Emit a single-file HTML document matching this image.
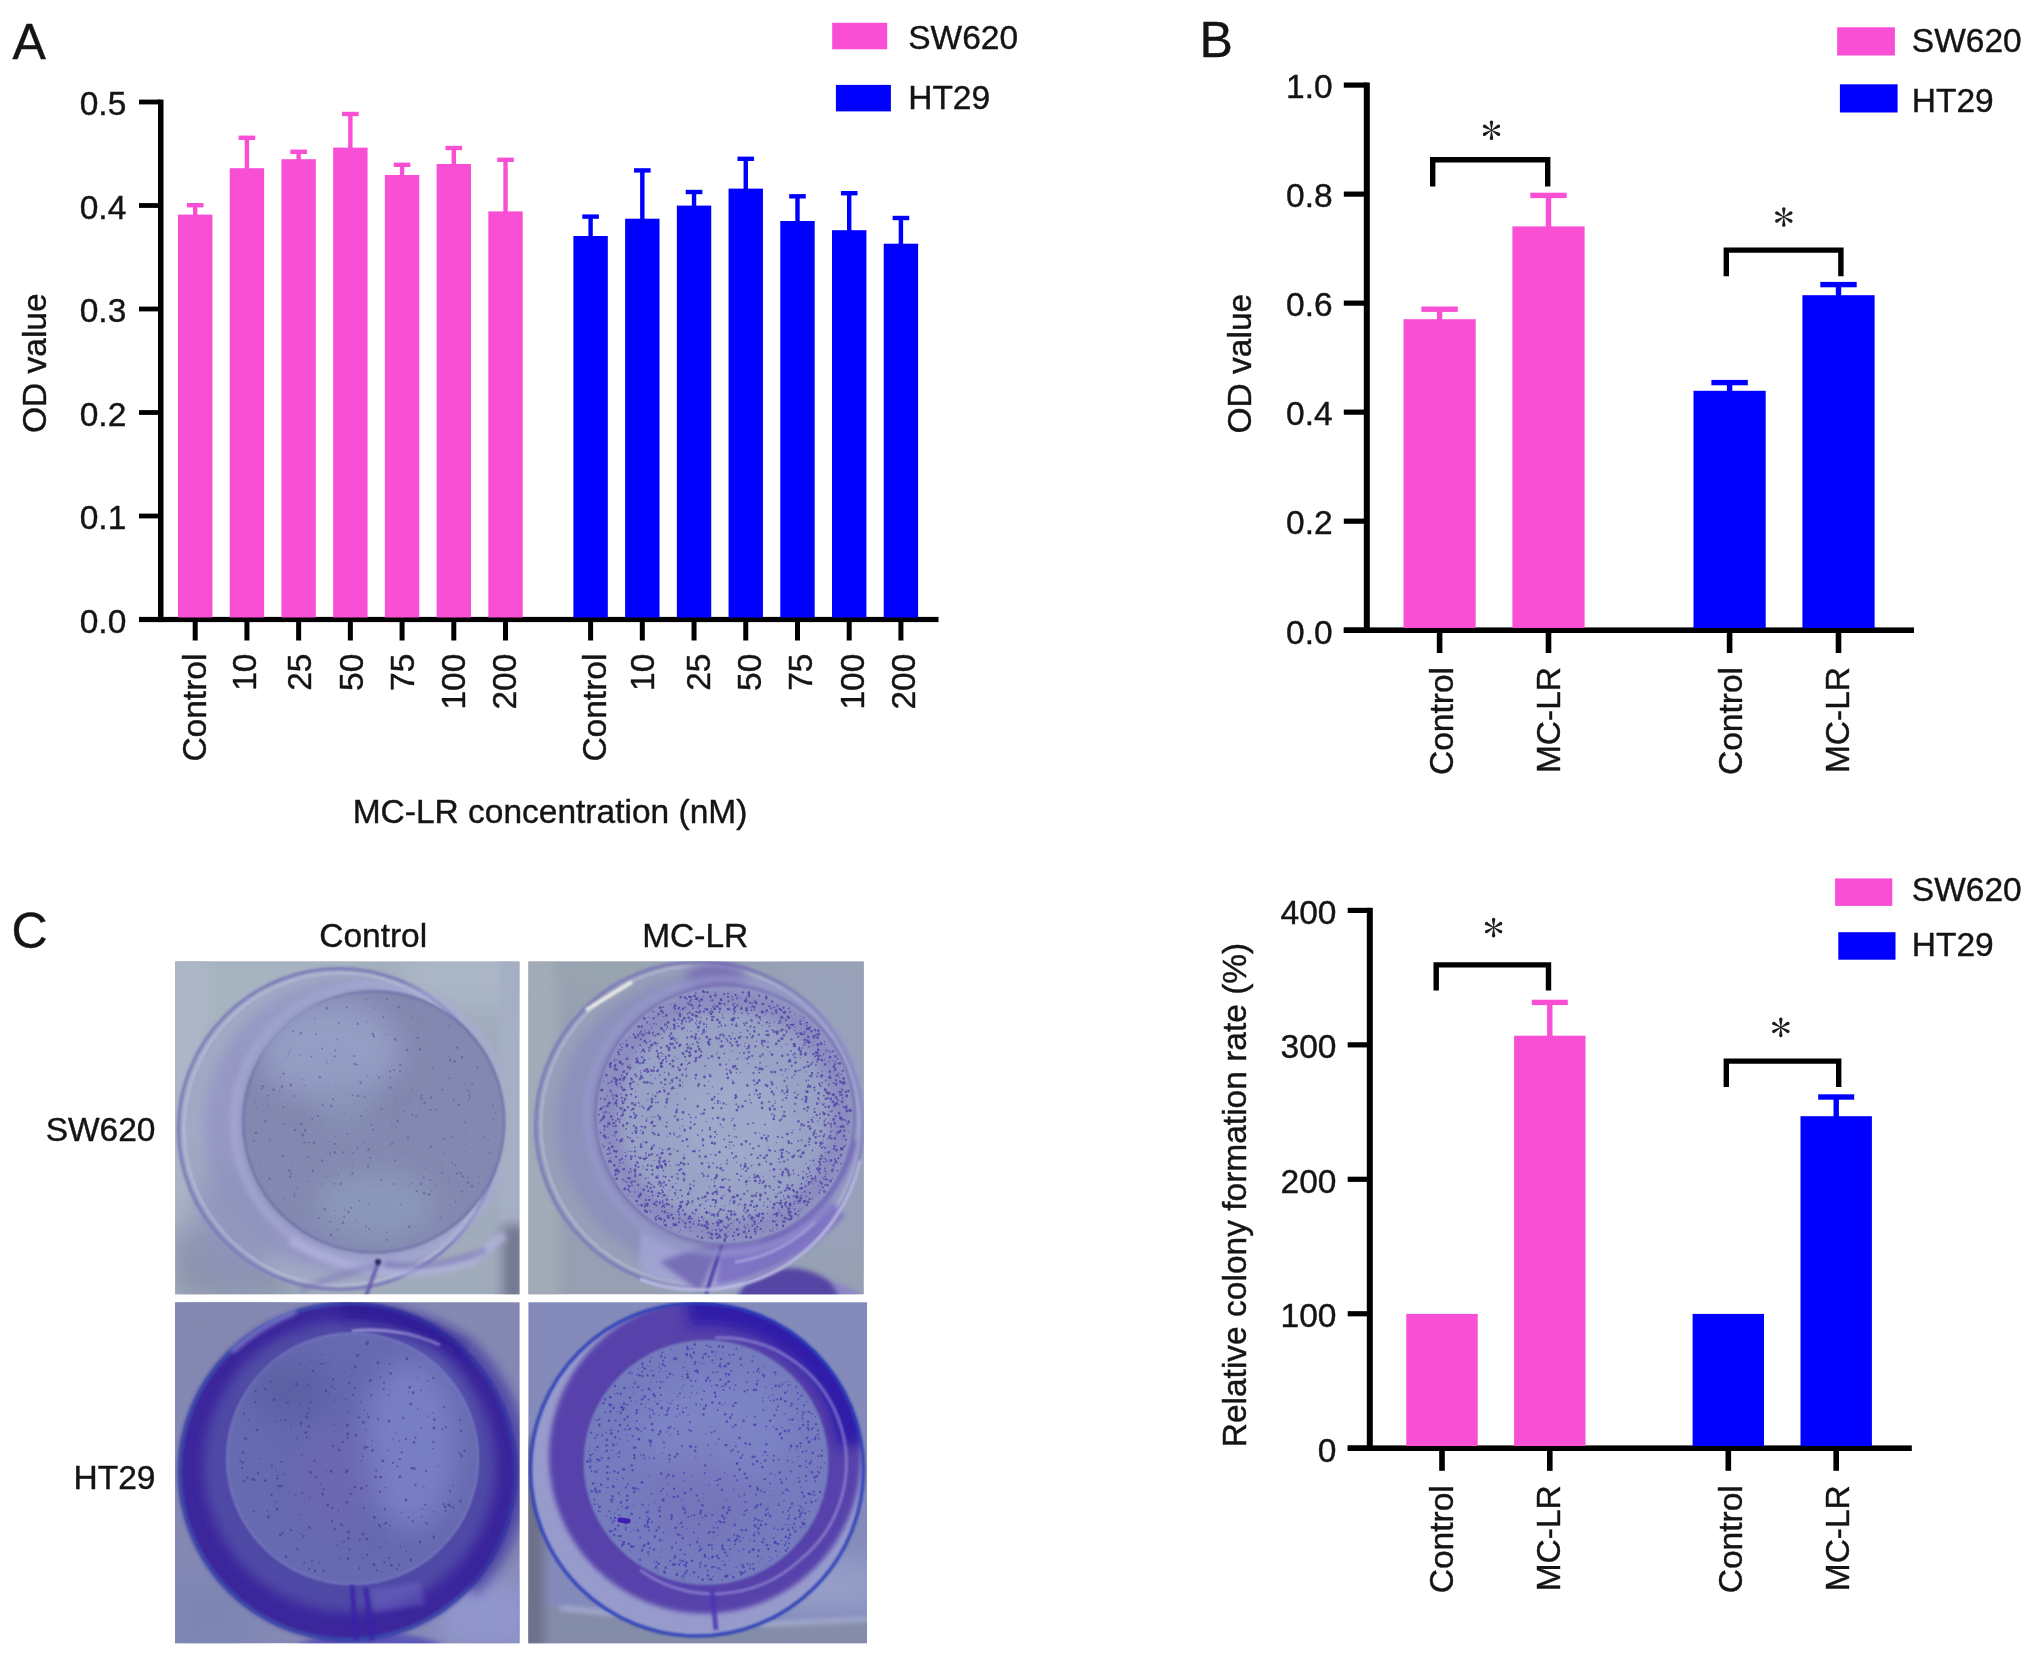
<!DOCTYPE html>
<html><head><meta charset="utf-8"><title>Figure</title>
<style>html,body{margin:0;padding:0;background:#fff}svg{display:block}</style></head>
<body>
<svg xmlns="http://www.w3.org/2000/svg" width="2032" height="1660" viewBox="0 0 2032 1660">
<rect width="2032" height="1660" fill="#fff"/>
<g id="fig" style="will-change:opacity">
<text x="12.50" y="59.00" font-size="50" text-anchor="start" fill="#141414" stroke="#141414" stroke-width="0.4" font-family="Liberation Sans">A</text>
<rect x="158.00" y="99.60" width="5.50" height="522.50" fill="#000"/>
<rect x="139.00" y="616.90" width="799.50" height="5.20" fill="#000"/>
<rect x="139.00" y="99.60" width="21.75" height="4.80" fill="#000"/>
<text x="126.30" y="115.10" font-size="33.5" text-anchor="end" fill="#141414" stroke="#141414" stroke-width="0.4" font-family="Liberation Sans">0.5</text>
<rect x="139.00" y="203.10" width="21.75" height="4.80" fill="#000"/>
<text x="126.30" y="218.60" font-size="33.5" text-anchor="end" fill="#141414" stroke="#141414" stroke-width="0.4" font-family="Liberation Sans">0.4</text>
<rect x="139.00" y="306.60" width="21.75" height="4.80" fill="#000"/>
<text x="126.30" y="322.10" font-size="33.5" text-anchor="end" fill="#141414" stroke="#141414" stroke-width="0.4" font-family="Liberation Sans">0.3</text>
<rect x="139.00" y="410.10" width="21.75" height="4.80" fill="#000"/>
<text x="126.30" y="425.60" font-size="33.5" text-anchor="end" fill="#141414" stroke="#141414" stroke-width="0.4" font-family="Liberation Sans">0.2</text>
<rect x="139.00" y="513.60" width="21.75" height="4.80" fill="#000"/>
<text x="126.30" y="529.10" font-size="33.5" text-anchor="end" fill="#141414" stroke="#141414" stroke-width="0.4" font-family="Liberation Sans">0.1</text>
<rect x="139.00" y="617.10" width="21.75" height="4.80" fill="#000"/>
<text x="126.30" y="632.60" font-size="33.5" text-anchor="end" fill="#141414" stroke="#141414" stroke-width="0.4" font-family="Liberation Sans">0.0</text>
<text x="45.60" y="363.20" font-size="33.5" text-anchor="middle" fill="#141414" stroke="#141414" stroke-width="0.4" font-family="Liberation Sans" transform="rotate(-90 45.60 363.20)">OD value</text>
<rect x="193.00" y="205.20" width="4.40" height="10.40" fill="#f84fd4"/>
<rect x="186.90" y="203.00" width="16.60" height="4.40" fill="#f84fd4"/>
<rect x="178.00" y="214.60" width="34.40" height="402.90" fill="#f84fd4"/>
<rect x="192.70" y="621.00" width="5.00" height="19.50" fill="#000"/>
<text x="206.40" y="653.60" font-size="33.5" text-anchor="end" fill="#141414" stroke="#141414" stroke-width="0.4" font-family="Liberation Sans" transform="rotate(-90 206.40 653.60)">Control</text>
<rect x="244.72" y="137.80" width="4.40" height="31.40" fill="#f84fd4"/>
<rect x="238.62" y="135.60" width="16.60" height="4.40" fill="#f84fd4"/>
<rect x="229.72" y="168.20" width="34.40" height="449.30" fill="#f84fd4"/>
<rect x="244.42" y="621.00" width="5.00" height="19.50" fill="#000"/>
<text x="255.60" y="653.60" font-size="33.5" text-anchor="end" fill="#141414" stroke="#141414" stroke-width="0.4" font-family="Liberation Sans" transform="rotate(-90 255.60 653.60)">10</text>
<rect x="296.44" y="151.80" width="4.40" height="8.40" fill="#f84fd4"/>
<rect x="290.34" y="149.60" width="16.60" height="4.40" fill="#f84fd4"/>
<rect x="281.44" y="159.20" width="34.40" height="458.30" fill="#f84fd4"/>
<rect x="296.14" y="621.00" width="5.00" height="19.50" fill="#000"/>
<text x="311.00" y="653.60" font-size="33.5" text-anchor="end" fill="#141414" stroke="#141414" stroke-width="0.4" font-family="Liberation Sans" transform="rotate(-90 311.00 653.60)">25</text>
<rect x="348.16" y="114.00" width="4.40" height="34.60" fill="#f84fd4"/>
<rect x="342.06" y="111.80" width="16.60" height="4.40" fill="#f84fd4"/>
<rect x="333.16" y="147.60" width="34.40" height="469.90" fill="#f84fd4"/>
<rect x="347.86" y="621.00" width="5.00" height="19.50" fill="#000"/>
<text x="362.70" y="653.60" font-size="33.5" text-anchor="end" fill="#141414" stroke="#141414" stroke-width="0.4" font-family="Liberation Sans" transform="rotate(-90 362.70 653.60)">50</text>
<rect x="399.88" y="164.80" width="4.40" height="11.20" fill="#f84fd4"/>
<rect x="393.78" y="162.60" width="16.60" height="4.40" fill="#f84fd4"/>
<rect x="384.88" y="175.00" width="34.40" height="442.50" fill="#f84fd4"/>
<rect x="399.58" y="621.00" width="5.00" height="19.50" fill="#000"/>
<text x="413.70" y="653.60" font-size="33.5" text-anchor="end" fill="#141414" stroke="#141414" stroke-width="0.4" font-family="Liberation Sans" transform="rotate(-90 413.70 653.60)">75</text>
<rect x="451.60" y="148.00" width="4.40" height="17.00" fill="#f84fd4"/>
<rect x="445.50" y="145.80" width="16.60" height="4.40" fill="#f84fd4"/>
<rect x="436.60" y="164.00" width="34.40" height="453.50" fill="#f84fd4"/>
<rect x="451.30" y="621.00" width="5.00" height="19.50" fill="#000"/>
<text x="464.70" y="653.60" font-size="33.5" text-anchor="end" fill="#141414" stroke="#141414" stroke-width="0.4" font-family="Liberation Sans" transform="rotate(-90 464.70 653.60)">100</text>
<rect x="503.32" y="159.80" width="4.40" height="52.60" fill="#f84fd4"/>
<rect x="497.22" y="157.60" width="16.60" height="4.40" fill="#f84fd4"/>
<rect x="488.32" y="211.40" width="34.40" height="406.10" fill="#f84fd4"/>
<rect x="503.02" y="621.00" width="5.00" height="19.50" fill="#000"/>
<text x="516.50" y="653.60" font-size="33.5" text-anchor="end" fill="#141414" stroke="#141414" stroke-width="0.4" font-family="Liberation Sans" transform="rotate(-90 516.50 653.60)">200</text>
<rect x="588.40" y="216.60" width="4.40" height="20.40" fill="#0000ff"/>
<rect x="582.30" y="214.40" width="16.60" height="4.40" fill="#0000ff"/>
<rect x="573.40" y="236.00" width="34.40" height="381.50" fill="#0000ff"/>
<rect x="588.10" y="621.00" width="5.00" height="19.50" fill="#000"/>
<text x="605.80" y="653.60" font-size="33.5" text-anchor="end" fill="#141414" stroke="#141414" stroke-width="0.4" font-family="Liberation Sans" transform="rotate(-90 605.80 653.60)">Control</text>
<rect x="640.12" y="170.40" width="4.40" height="49.30" fill="#0000ff"/>
<rect x="634.02" y="168.20" width="16.60" height="4.40" fill="#0000ff"/>
<rect x="625.12" y="218.70" width="34.40" height="398.80" fill="#0000ff"/>
<rect x="639.82" y="621.00" width="5.00" height="19.50" fill="#000"/>
<text x="654.40" y="653.60" font-size="33.5" text-anchor="end" fill="#141414" stroke="#141414" stroke-width="0.4" font-family="Liberation Sans" transform="rotate(-90 654.40 653.60)">10</text>
<rect x="691.84" y="192.00" width="4.40" height="14.60" fill="#0000ff"/>
<rect x="685.74" y="189.80" width="16.60" height="4.40" fill="#0000ff"/>
<rect x="676.84" y="205.60" width="34.40" height="411.90" fill="#0000ff"/>
<rect x="691.54" y="621.00" width="5.00" height="19.50" fill="#000"/>
<text x="709.80" y="653.60" font-size="33.5" text-anchor="end" fill="#141414" stroke="#141414" stroke-width="0.4" font-family="Liberation Sans" transform="rotate(-90 709.80 653.60)">25</text>
<rect x="743.56" y="158.80" width="4.40" height="30.80" fill="#0000ff"/>
<rect x="737.46" y="156.60" width="16.60" height="4.40" fill="#0000ff"/>
<rect x="728.56" y="188.60" width="34.40" height="428.90" fill="#0000ff"/>
<rect x="743.26" y="621.00" width="5.00" height="19.50" fill="#000"/>
<text x="761.40" y="653.60" font-size="33.5" text-anchor="end" fill="#141414" stroke="#141414" stroke-width="0.4" font-family="Liberation Sans" transform="rotate(-90 761.40 653.60)">50</text>
<rect x="795.28" y="196.30" width="4.40" height="25.70" fill="#0000ff"/>
<rect x="789.18" y="194.10" width="16.60" height="4.40" fill="#0000ff"/>
<rect x="780.28" y="221.00" width="34.40" height="396.50" fill="#0000ff"/>
<rect x="794.98" y="621.00" width="5.00" height="19.50" fill="#000"/>
<text x="812.50" y="653.60" font-size="33.5" text-anchor="end" fill="#141414" stroke="#141414" stroke-width="0.4" font-family="Liberation Sans" transform="rotate(-90 812.50 653.60)">75</text>
<rect x="847.00" y="193.20" width="4.40" height="38.00" fill="#0000ff"/>
<rect x="840.90" y="191.00" width="16.60" height="4.40" fill="#0000ff"/>
<rect x="832.00" y="230.20" width="34.40" height="387.30" fill="#0000ff"/>
<rect x="846.70" y="621.00" width="5.00" height="19.50" fill="#000"/>
<text x="864.00" y="653.60" font-size="33.5" text-anchor="end" fill="#141414" stroke="#141414" stroke-width="0.4" font-family="Liberation Sans" transform="rotate(-90 864.00 653.60)">100</text>
<rect x="898.72" y="218.00" width="4.40" height="26.70" fill="#0000ff"/>
<rect x="892.62" y="215.80" width="16.60" height="4.40" fill="#0000ff"/>
<rect x="883.72" y="243.70" width="34.40" height="373.80" fill="#0000ff"/>
<rect x="898.42" y="621.00" width="5.00" height="19.50" fill="#000"/>
<text x="914.80" y="653.60" font-size="33.5" text-anchor="end" fill="#141414" stroke="#141414" stroke-width="0.4" font-family="Liberation Sans" transform="rotate(-90 914.80 653.60)">200</text>
<text x="550.00" y="823.00" font-size="33.5" text-anchor="middle" fill="#141414" stroke="#141414" stroke-width="0.4" font-family="Liberation Sans">MC-LR concentration (nM)</text>
<rect x="832.20" y="22.80" width="55.00" height="26.50" fill="#f84fd4"/>
<rect x="835.90" y="84.90" width="55.00" height="26.50" fill="#0000ff"/>
<text x="908.20" y="49.40" font-size="33.5" text-anchor="start" fill="#141414" stroke="#141414" stroke-width="0.4" font-family="Liberation Sans">SW620</text>
<text x="908.20" y="108.90" font-size="33.5" text-anchor="start" fill="#141414" stroke="#141414" stroke-width="0.4" font-family="Liberation Sans">HT29</text>
<text x="1199.50" y="56.60" font-size="50" text-anchor="start" fill="#141414" stroke="#141414" stroke-width="0.4" font-family="Liberation Sans">B</text>
<rect x="1363.80" y="82.50" width="6.00" height="550.50" fill="#000"/>
<rect x="1343.80" y="627.40" width="570.20" height="5.60" fill="#000"/>
<rect x="1343.80" y="82.50" width="23.00" height="5.20" fill="#000"/>
<text x="1332.60" y="98.40" font-size="33.5" text-anchor="end" fill="#141414" stroke="#141414" stroke-width="0.4" font-family="Liberation Sans">1.0</text>
<rect x="1343.80" y="191.52" width="23.00" height="5.20" fill="#000"/>
<text x="1332.60" y="207.42" font-size="33.5" text-anchor="end" fill="#141414" stroke="#141414" stroke-width="0.4" font-family="Liberation Sans">0.8</text>
<rect x="1343.80" y="300.54" width="23.00" height="5.20" fill="#000"/>
<text x="1332.60" y="316.44" font-size="33.5" text-anchor="end" fill="#141414" stroke="#141414" stroke-width="0.4" font-family="Liberation Sans">0.6</text>
<rect x="1343.80" y="409.56" width="23.00" height="5.20" fill="#000"/>
<text x="1332.60" y="425.46" font-size="33.5" text-anchor="end" fill="#141414" stroke="#141414" stroke-width="0.4" font-family="Liberation Sans">0.4</text>
<rect x="1343.80" y="518.58" width="23.00" height="5.20" fill="#000"/>
<text x="1332.60" y="534.48" font-size="33.5" text-anchor="end" fill="#141414" stroke="#141414" stroke-width="0.4" font-family="Liberation Sans">0.2</text>
<rect x="1343.80" y="627.60" width="23.00" height="5.20" fill="#000"/>
<text x="1332.60" y="643.50" font-size="33.5" text-anchor="end" fill="#141414" stroke="#141414" stroke-width="0.4" font-family="Liberation Sans">0.0</text>
<text x="1250.60" y="363.60" font-size="33.5" text-anchor="middle" fill="#141414" stroke="#141414" stroke-width="0.4" font-family="Liberation Sans" transform="rotate(-90 1250.60 363.60)">OD value</text>
<rect x="1436.90" y="309.20" width="5.40" height="11.00" fill="#f84fd4"/>
<rect x="1421.40" y="306.50" width="36.40" height="5.40" fill="#f84fd4"/>
<rect x="1403.50" y="319.20" width="72.20" height="308.80" fill="#f84fd4"/>
<rect x="1436.80" y="632.00" width="5.60" height="21.00" fill="#000"/>
<text x="1452.60" y="667.00" font-size="33.5" text-anchor="end" fill="#141414" stroke="#141414" stroke-width="0.4" font-family="Liberation Sans" transform="rotate(-90 1452.60 667.00)">Control</text>
<rect x="1545.80" y="195.40" width="5.40" height="32.00" fill="#f84fd4"/>
<rect x="1530.30" y="192.70" width="36.40" height="5.40" fill="#f84fd4"/>
<rect x="1512.40" y="226.40" width="72.20" height="401.60" fill="#f84fd4"/>
<rect x="1545.70" y="632.00" width="5.60" height="21.00" fill="#000"/>
<text x="1560.00" y="667.00" font-size="33.5" text-anchor="end" fill="#141414" stroke="#141414" stroke-width="0.4" font-family="Liberation Sans" transform="rotate(-90 1560.00 667.00)">MC-LR</text>
<rect x="1726.90" y="382.60" width="5.40" height="9.20" fill="#0000ff"/>
<rect x="1711.40" y="379.90" width="36.40" height="5.40" fill="#0000ff"/>
<rect x="1693.50" y="390.80" width="72.20" height="237.20" fill="#0000ff"/>
<rect x="1726.80" y="632.00" width="5.60" height="21.00" fill="#000"/>
<text x="1742.40" y="667.00" font-size="33.5" text-anchor="end" fill="#141414" stroke="#141414" stroke-width="0.4" font-family="Liberation Sans" transform="rotate(-90 1742.40 667.00)">Control</text>
<rect x="1835.80" y="284.60" width="5.40" height="11.60" fill="#0000ff"/>
<rect x="1820.30" y="281.90" width="36.40" height="5.40" fill="#0000ff"/>
<rect x="1802.40" y="295.20" width="72.20" height="332.80" fill="#0000ff"/>
<rect x="1835.70" y="632.00" width="5.60" height="21.00" fill="#000"/>
<text x="1849.40" y="667.00" font-size="33.5" text-anchor="end" fill="#141414" stroke="#141414" stroke-width="0.4" font-family="Liberation Sans" transform="rotate(-90 1849.40 667.00)">MC-LR</text>
<path d="M1432.70 186.60V159.70H1547.70V186.60" fill="none" stroke="#000" stroke-width="5.4" stroke-linejoin="miter"/>
<path d="M1726.30 276.20V250.10H1840.90V276.20" fill="none" stroke="#000" stroke-width="5.4" stroke-linejoin="miter"/>
<g transform="translate(1491.50 130.30) scale(0.994)" fill="#1c1c1c"><circle r="1.3"/><path d="M-0.45 -1.2L-1.55 -7.3A1.75 1.75 0 1 1 1.55 -7.3L0.45 -1.2Z" transform="rotate(0)"/><path d="M-0.45 -1.2L-1.55 -7.3A1.75 1.75 0 1 1 1.55 -7.3L0.45 -1.2Z" transform="rotate(60)"/><path d="M-0.45 -1.2L-1.55 -7.3A1.75 1.75 0 1 1 1.55 -7.3L0.45 -1.2Z" transform="rotate(120)"/><path d="M-0.45 -1.2L-1.55 -7.3A1.75 1.75 0 1 1 1.55 -7.3L0.45 -1.2Z" transform="rotate(180)"/><path d="M-0.45 -1.2L-1.55 -7.3A1.75 1.75 0 1 1 1.55 -7.3L0.45 -1.2Z" transform="rotate(240)"/><path d="M-0.45 -1.2L-1.55 -7.3A1.75 1.75 0 1 1 1.55 -7.3L0.45 -1.2Z" transform="rotate(300)"/></g>
<g transform="translate(1783.80 217.00) scale(0.994)" fill="#1c1c1c"><circle r="1.3"/><path d="M-0.45 -1.2L-1.55 -7.3A1.75 1.75 0 1 1 1.55 -7.3L0.45 -1.2Z" transform="rotate(0)"/><path d="M-0.45 -1.2L-1.55 -7.3A1.75 1.75 0 1 1 1.55 -7.3L0.45 -1.2Z" transform="rotate(60)"/><path d="M-0.45 -1.2L-1.55 -7.3A1.75 1.75 0 1 1 1.55 -7.3L0.45 -1.2Z" transform="rotate(120)"/><path d="M-0.45 -1.2L-1.55 -7.3A1.75 1.75 0 1 1 1.55 -7.3L0.45 -1.2Z" transform="rotate(180)"/><path d="M-0.45 -1.2L-1.55 -7.3A1.75 1.75 0 1 1 1.55 -7.3L0.45 -1.2Z" transform="rotate(240)"/><path d="M-0.45 -1.2L-1.55 -7.3A1.75 1.75 0 1 1 1.55 -7.3L0.45 -1.2Z" transform="rotate(300)"/></g>
<rect x="1837.20" y="27.30" width="57.70" height="28.20" fill="#f84fd4"/>
<rect x="1839.90" y="84.30" width="57.70" height="28.20" fill="#0000ff"/>
<text x="1911.80" y="52.40" font-size="33.5" text-anchor="start" fill="#141414" stroke="#141414" stroke-width="0.4" font-family="Liberation Sans">SW620</text>
<text x="1911.80" y="111.90" font-size="33.5" text-anchor="start" fill="#141414" stroke="#141414" stroke-width="0.4" font-family="Liberation Sans">HT29</text>
<rect x="1366.80" y="907.80" width="6.00" height="543.20" fill="#000"/>
<rect x="1347.70" y="1445.40" width="564.10" height="5.60" fill="#000"/>
<rect x="1347.70" y="907.80" width="22.10" height="5.20" fill="#000"/>
<text x="1336.50" y="924.00" font-size="33.5" text-anchor="end" fill="#141414" stroke="#141414" stroke-width="0.4" font-family="Liberation Sans">400</text>
<rect x="1347.70" y="1042.25" width="22.10" height="5.20" fill="#000"/>
<text x="1336.50" y="1058.45" font-size="33.5" text-anchor="end" fill="#141414" stroke="#141414" stroke-width="0.4" font-family="Liberation Sans">300</text>
<rect x="1347.70" y="1176.70" width="22.10" height="5.20" fill="#000"/>
<text x="1336.50" y="1192.90" font-size="33.5" text-anchor="end" fill="#141414" stroke="#141414" stroke-width="0.4" font-family="Liberation Sans">200</text>
<rect x="1347.70" y="1311.15" width="22.10" height="5.20" fill="#000"/>
<text x="1336.50" y="1327.35" font-size="33.5" text-anchor="end" fill="#141414" stroke="#141414" stroke-width="0.4" font-family="Liberation Sans">100</text>
<rect x="1347.70" y="1445.60" width="22.10" height="5.20" fill="#000"/>
<text x="1336.50" y="1461.80" font-size="33.5" text-anchor="end" fill="#141414" stroke="#141414" stroke-width="0.4" font-family="Liberation Sans">0</text>
<text x="1246.00" y="1195.00" font-size="33.5" text-anchor="middle" fill="#141414" stroke="#141414" stroke-width="0.4" font-family="Liberation Sans" transform="rotate(-90 1246.00 1195.00)">Relative colony formation rate (%)</text>
<rect x="1406.30" y="1313.90" width="71.40" height="132.10" fill="#f84fd4"/>
<rect x="1439.20" y="1450.00" width="5.60" height="20.80" fill="#000"/>
<text x="1452.80" y="1485.20" font-size="33.5" text-anchor="end" fill="#141414" stroke="#141414" stroke-width="0.4" font-family="Liberation Sans" transform="rotate(-90 1452.80 1485.20)">Control</text>
<rect x="1547.10" y="1002.40" width="5.40" height="34.30" fill="#f84fd4"/>
<rect x="1531.80" y="999.70" width="36.00" height="5.40" fill="#f84fd4"/>
<rect x="1514.10" y="1035.70" width="71.40" height="410.30" fill="#f84fd4"/>
<rect x="1547.00" y="1450.00" width="5.60" height="20.80" fill="#000"/>
<text x="1560.30" y="1485.20" font-size="33.5" text-anchor="end" fill="#141414" stroke="#141414" stroke-width="0.4" font-family="Liberation Sans" transform="rotate(-90 1560.30 1485.20)">MC-LR</text>
<rect x="1692.60" y="1313.90" width="71.40" height="132.10" fill="#0000ff"/>
<rect x="1725.50" y="1450.00" width="5.60" height="20.80" fill="#000"/>
<text x="1742.10" y="1485.20" font-size="33.5" text-anchor="end" fill="#141414" stroke="#141414" stroke-width="0.4" font-family="Liberation Sans" transform="rotate(-90 1742.10 1485.20)">Control</text>
<rect x="1833.50" y="1097.00" width="5.40" height="20.20" fill="#0000ff"/>
<rect x="1818.20" y="1094.30" width="36.00" height="5.40" fill="#0000ff"/>
<rect x="1800.50" y="1116.20" width="71.40" height="329.80" fill="#0000ff"/>
<rect x="1833.40" y="1450.00" width="5.60" height="20.80" fill="#000"/>
<text x="1849.00" y="1485.20" font-size="33.5" text-anchor="end" fill="#141414" stroke="#141414" stroke-width="0.4" font-family="Liberation Sans" transform="rotate(-90 1849.00 1485.20)">MC-LR</text>
<path d="M1436.20 990.60V964.90H1548.50V990.60" fill="none" stroke="#000" stroke-width="5.4" stroke-linejoin="miter"/>
<path d="M1726.30 1087.00V1061.10H1838.70V1087.00" fill="none" stroke="#000" stroke-width="5.4" stroke-linejoin="miter"/>
<g transform="translate(1493.60 927.60) scale(0.994)" fill="#1c1c1c"><circle r="1.3"/><path d="M-0.45 -1.2L-1.55 -7.3A1.75 1.75 0 1 1 1.55 -7.3L0.45 -1.2Z" transform="rotate(0)"/><path d="M-0.45 -1.2L-1.55 -7.3A1.75 1.75 0 1 1 1.55 -7.3L0.45 -1.2Z" transform="rotate(60)"/><path d="M-0.45 -1.2L-1.55 -7.3A1.75 1.75 0 1 1 1.55 -7.3L0.45 -1.2Z" transform="rotate(120)"/><path d="M-0.45 -1.2L-1.55 -7.3A1.75 1.75 0 1 1 1.55 -7.3L0.45 -1.2Z" transform="rotate(180)"/><path d="M-0.45 -1.2L-1.55 -7.3A1.75 1.75 0 1 1 1.55 -7.3L0.45 -1.2Z" transform="rotate(240)"/><path d="M-0.45 -1.2L-1.55 -7.3A1.75 1.75 0 1 1 1.55 -7.3L0.45 -1.2Z" transform="rotate(300)"/></g>
<g transform="translate(1780.80 1027.40) scale(0.994)" fill="#1c1c1c"><circle r="1.3"/><path d="M-0.45 -1.2L-1.55 -7.3A1.75 1.75 0 1 1 1.55 -7.3L0.45 -1.2Z" transform="rotate(0)"/><path d="M-0.45 -1.2L-1.55 -7.3A1.75 1.75 0 1 1 1.55 -7.3L0.45 -1.2Z" transform="rotate(60)"/><path d="M-0.45 -1.2L-1.55 -7.3A1.75 1.75 0 1 1 1.55 -7.3L0.45 -1.2Z" transform="rotate(120)"/><path d="M-0.45 -1.2L-1.55 -7.3A1.75 1.75 0 1 1 1.55 -7.3L0.45 -1.2Z" transform="rotate(180)"/><path d="M-0.45 -1.2L-1.55 -7.3A1.75 1.75 0 1 1 1.55 -7.3L0.45 -1.2Z" transform="rotate(240)"/><path d="M-0.45 -1.2L-1.55 -7.3A1.75 1.75 0 1 1 1.55 -7.3L0.45 -1.2Z" transform="rotate(300)"/></g>
<rect x="1835.10" y="878.40" width="57.20" height="27.50" fill="#f84fd4"/>
<rect x="1838.30" y="932.20" width="57.20" height="27.50" fill="#0000ff"/>
<text x="1911.80" y="901.30" font-size="33.5" text-anchor="start" fill="#141414" stroke="#141414" stroke-width="0.4" font-family="Liberation Sans">SW620</text>
<text x="1911.80" y="956.10" font-size="33.5" text-anchor="start" fill="#141414" stroke="#141414" stroke-width="0.4" font-family="Liberation Sans">HT29</text>
<text x="11.50" y="948.00" font-size="50" text-anchor="start" fill="#141414" stroke="#141414" stroke-width="0.4" font-family="Liberation Sans">C</text>
<text x="373.20" y="946.50" font-size="33.5" text-anchor="middle" fill="#141414" stroke="#141414" stroke-width="0.4" font-family="Liberation Sans">Control</text>
<text x="695.20" y="946.50" font-size="33.5" text-anchor="middle" fill="#141414" stroke="#141414" stroke-width="0.4" font-family="Liberation Sans">MC-LR</text>
<text x="155.50" y="1140.50" font-size="33.5" text-anchor="end" fill="#141414" stroke="#141414" stroke-width="0.4" font-family="Liberation Sans">SW620</text>
<text x="155.50" y="1489.20" font-size="33.5" text-anchor="end" fill="#141414" stroke="#141414" stroke-width="0.4" font-family="Liberation Sans">HT29</text>
<defs><filter id="b1" filterUnits="userSpaceOnUse" x="150" y="940" width="740" height="720"><feGaussianBlur stdDeviation="1"/></filter><filter id="b2" filterUnits="userSpaceOnUse" x="150" y="940" width="740" height="720"><feGaussianBlur stdDeviation="2.5"/></filter><filter id="b5" filterUnits="userSpaceOnUse" x="150" y="940" width="740" height="720"><feGaussianBlur stdDeviation="6"/></filter><filter id="b12" filterUnits="userSpaceOnUse" x="150" y="940" width="740" height="720"><feGaussianBlur stdDeviation="14"/></filter><filter id="bd" filterUnits="userSpaceOnUse" x="150" y="940" width="740" height="720"><feGaussianBlur stdDeviation="0.6"/></filter><clipPath id="c1"><rect x="175.2" y="961.4" width="344.2" height="332.8"/></clipPath><clipPath id="c2"><rect x="528.4" y="961.4" width="335.4" height="332.8"/></clipPath><clipPath id="c3"><rect x="175.0" y="1302.2" width="344.6" height="341.0"/></clipPath><clipPath id="c4"><rect x="528.4" y="1302.2" width="338.6" height="341.0"/></clipPath></defs>
<g clip-path="url(#c1)">
<rect x="175.00" y="961.00" width="345.00" height="334.00" fill="#a0acbc"/>
<rect x="170" y="950" width="200" height="90" fill="#a6b4c0" filter="url(#b12)"/>
<rect x="168" y="955" width="40" height="345" fill="#acb6c6" filter="url(#b5)"/>
<rect x="170" y="1230" width="120" height="70" fill="#8c94ac" filter="url(#b12)"/>
<rect x="400" y="948" width="125" height="60" fill="#aab6c6" filter="url(#b12)"/>
<circle cx="339.0" cy="1129.0" r="161.5" fill="#a0a9c4" filter="url(#b2)"/>
<circle cx="350.0" cy="1126.0" r="146.0" fill="#9699c4" filter="url(#b5)"/>
<ellipse cx="235" cy="1225" rx="45" ry="60" fill="#8e93bb" opacity=".75" filter="url(#b12)"/>
<circle cx="339.0" cy="1129.0" r="160.5" fill="none" stroke="#7c7cb8" stroke-width="3" filter="url(#b1)"/>
<circle cx="340.0" cy="1129.0" r="156.0" fill="none" stroke="#c2c3e2" stroke-width="2.2" opacity="0.7" filter="url(#b1)"/>
<circle cx="372.0" cy="1123.0" r="138.0" fill="none" stroke="#a9acd6" stroke-width="9" opacity="0.6" filter="url(#b2)"/>
<rect x="500" y="961" width="22" height="334" fill="#a5afc4" filter="url(#b2)"/>
<rect x="502" y="1225" width="24" height="80" fill="#747892" filter="url(#b5)"/>
<circle cx="373.8" cy="1121.9" r="131.0" fill="#8388b0" filter="url(#b1)"/>
<circle cx="373.8" cy="1121.9" r="130.5" fill="none" stroke="#6666a4" stroke-width="1.6" opacity="0.9" filter="url(#b1)"/>
<ellipse cx="330.0" cy="1050.0" rx="70.0" ry="50.0" fill="#98a1c8" opacity="0.85" filter="url(#b12)"/>
<ellipse cx="375.0" cy="1205.0" rx="60.0" ry="35.0" fill="#8c9bbe" opacity="0.8" filter="url(#b12)"/>
<ellipse cx="345.0" cy="1105.0" rx="30.0" ry="25.0" fill="#8a99bc" opacity="0.6" filter="url(#b12)"/>
<path d="M290 1240 Q370 1290 470 1262 L505 1235" stroke="#b4b6e0" stroke-width="9" fill="none" opacity=".7" filter="url(#b2)"/>
<path d="M384 1264 Q430 1272 486 1250" stroke="#7a6ebc" stroke-width="6" fill="none" opacity=".6" filter="url(#b2)"/>
<path d="M378 1263 L366 1296" stroke="#6658aa" stroke-width="4" opacity=".85" filter="url(#b1)"/>
<circle cx="378" cy="1262" r="3" fill="#2c2060" filter="url(#b1)"/>
<path d="M300 1290 Q340 1274 376 1266" stroke="#7a72b4" stroke-width="6" fill="none" opacity=".5" filter="url(#b2)"/>
<path d="M352.3 1165.0h0M381.8 1157.4h0M441.8 1165.5h0M467.0 1090.0h0M304.7 1085.5h0M424.7 1168.3h0M448.5 1178.4h0M344.1 1112.7h0M302.1 1079.2h0M314.2 1198.3h0M420.3 1109.3h0M366.4 1110.5h0M411.7 1183.5h0M488.3 1140.4h0M338.7 1175.2h0M256.4 1108.3h0M266.6 1099.6h0M290.4 1050.0h0M412.5 1016.6h0M400.7 1204.7h0M445.7 1101.0h0M269.7 1146.4h0M333.4 1060.6h0M483.7 1136.8h0M255.7 1102.0h0M425.0 1194.2h0M289.0 1053.0h0M336.5 1039.6h0M395.8 1102.1h0M386.1 1034.4h0M402.0 1154.7h0M327.2 1063.1h0M411.3 1088.8h0M465.4 1133.2h0M307.1 1181.2h0M464.0 1199.3h0M429.6 1154.5h0M280.1 1077.4h0M465.3 1084.6h0M328.3 1085.1h0M355.2 1104.1h0M321.5 1121.9h0M367.7 1076.0h0M443.6 1048.1h0M363.5 1142.5h0M355.6 1220.7h0M391.8 1126.7h0M478.4 1183.3h0M431.3 1190.8h0M469.5 1094.8h0M376.0 1185.6h0M268.1 1104.5h0M407.9 1072.4h0M478.6 1176.8h0M300.0 1055.2h0M283.8 1199.4h0M449.3 1205.0h0M374.3 1008.3h0M444.9 1152.7h0M321.8 1184.2h0M255.9 1132.6h0M366.7 1022.0h0M344.7 1209.8h0M291.4 1162.3h0M435.7 1184.5h0M259.6 1162.3h0M449.0 1025.5h0M381.7 1169.6h0M467.9 1177.5h0M448.6 1055.9h0M314.6 1018.4h0M453.4 1157.8h0M449.6 1183.8h0M274.4 1154.5h0M493.5 1120.0h0M335.5 1136.4h0M301.7 1219.3h0M396.2 1127.7h0M327.0 1176.3h0M403.7 1111.4h0M403.1 1007.1h0M339.9 1219.3h0M422.2 1148.1h0M317.5 1231.0h0M495.7 1113.0h0M368.5 1203.9h0M386.8 1232.6h0M395.2 1109.1h0M465.1 1151.8h0M286.7 1056.1h0M449.2 1181.0h0M476.9 1147.1h0M279.5 1091.2h0M326.1 1060.8h0M328.9 1141.6h0M276.9 1186.6h0M408.4 1186.4h0M410.3 1103.4h0M335.7 1210.7h0M454.3 1066.6h0M438.1 1029.1h0M417.9 1164.9h0M463.7 1145.6h0" stroke="#5d5894" stroke-width="1.4" stroke-linecap="round" opacity=".6" filter="url(#bd)"/>
<path d="M283.4 1123.9h0M416.1 1116.6h0M455.6 1165.3h0M334.4 1183.8h0M297.4 1188.6h0M378.9 1077.6h0M449.5 1078.3h0M359.6 1200.5h0M373.2 1129.8h0M469.3 1091.0h0M329.9 1153.6h0M293.3 1031.3h0M455.7 1201.6h0M317.9 1116.1h0M344.2 1216.8h0M453.6 1099.5h0M318.8 1218.3h0M395.1 1160.6h0M390.3 1077.4h0M400.0 1071.3h0M334.6 1143.8h0M269.7 1139.4h0M394.2 1183.9h0M312.2 1118.9h0M477.4 1067.3h0M335.2 1050.5h0M430.7 1110.1h0M416.8 1191.1h0M308.6 1157.1h0M390.1 1071.4h0M304.6 1142.6h0M436.1 1109.7h0M311.4 1056.5h0M322.6 1104.9h0M461.9 1191.4h0M261.7 1088.6h0M381.5 1109.3h0M347.3 1134.2h0M364.5 1097.2h0M371.3 1125.1h0M316.2 1034.2h0M383.3 1017.1h0M423.7 1177.2h0M366.0 999.7h0M361.2 1116.2h0M412.3 1115.2h0M351.2 1208.1h0M387.1 999.0h0M492.7 1105.5h0M452.1 1162.7h0M333.1 1099.0h0M356.6 1064.8h0M308.9 1142.6h0M343.1 1152.2h0M346.7 1007.3h0M330.1 1221.8h0M291.4 1173.5h0M352.7 1095.3h0M294.5 1095.9h0M353.4 1153.3h0M394.1 1070.0h0M294.4 1193.8h0M357.5 1148.2h0M430.2 1179.9h0M472.1 1084.0h0M386.8 1240.1h0M469.2 1098.9h0M464.7 1122.6h0M470.1 1096.5h0M283.3 1106.8h0M354.5 1055.9h0M338.7 1022.8h0M380.8 1179.8h0M391.5 1143.9h0M322.1 1048.4h0M334.7 1056.4h0M294.5 1196.3h0M421.5 1095.5h0M451.8 1136.9h0M369.1 1229.0h0M365.8 1226.6h0M254.0 1140.7h0M370.4 1157.7h0M267.9 1095.7h0M440.4 1217.6h0M442.2 1173.1h0M442.3 1089.8h0M444.1 1138.8h0M433.2 1068.6h0M393.1 1142.4h0M337.6 1229.4h0M489.8 1153.0h0" stroke="#5d5894" stroke-width="2.0" stroke-linecap="round" opacity=".6" filter="url(#bd)"/>
<path d="M390.3 1087.6h0M331.4 1106.1h0M354.5 1063.8h0M301.2 1124.1h0M423.9 1192.7h0M408.2 1137.8h0M358.1 1095.7h0M283.5 1073.8h0M262.8 1086.3h0M319.8 1077.3h0M462.2 1057.3h0M312.7 1170.9h0M290.8 1084.9h0M305.1 1130.4h0M429.1 1194.7h0M395.1 1039.4h0M303.0 1135.4h0M420.0 1049.5h0M460.6 1173.1h0M373.9 1036.2h0M265.4 1121.1h0M454.6 1061.4h0M269.5 1178.7h0M282.9 1155.8h0M398.7 1007.1h0M368.1 1166.2h0M400.3 1064.7h0M397.6 1121.1h0M326.9 1008.3h0M313.8 1143.1h0M468.1 1182.5h0M357.7 1023.8h0M450.2 1060.2h0M417.6 1037.8h0M282.1 1086.6h0M372.8 1034.0h0M324.6 1209.1h0M334.9 1152.4h0M368.4 1149.6h0M430.7 1097.5h0M457.3 1047.6h0M273.6 1089.9h0M302.2 1134.5h0M471.9 1186.4h0M458.9 1104.7h0M360.6 1082.5h0M424.7 1103.0h0M409.3 1226.8h0M256.0 1133.0h0M420.9 1183.8h0M462.5 1176.5h0M342.9 1222.6h0M421.5 1098.7h0M340.9 1183.8h0M290.2 1176.6h0M289.2 1170.6h0M348.4 1211.8h0M430.9 1146.5h0M407.0 1049.9h0M352.5 1173.6h0M295.0 1130.1h0M322.1 1160.6h0M330.9 1235.1h0M456.7 1173.8h0M300.8 1033.3h0" stroke="#5d5894" stroke-width="2.6" stroke-linecap="round" opacity=".6" filter="url(#bd)"/>
</g>
<g clip-path="url(#c2)">
<rect x="528.00" y="961.00" width="336.00" height="334.00" fill="#96a0b2"/>
<rect x="522" y="955" width="36" height="345" fill="#a2acb8" filter="url(#b5)"/>
<rect x="560" y="950" width="140" height="40" fill="#98a4ae" filter="url(#b12)"/>
<rect x="780" y="955" width="90" height="300" fill="#98a2ba" filter="url(#b12)"/>
<ellipse cx="800.0" cy="1318.0" rx="75.0" ry="40.0" fill="#8c86c4" filter="url(#b2)"/>
<ellipse cx="788.0" cy="1300.0" rx="50.0" ry="32.0" fill="#5444a4" filter="url(#b2)"/>
<circle cx="699.2" cy="1125.0" r="165.0" fill="#969fb8" filter="url(#b2)"/>
<circle cx="704.0" cy="1122.0" r="147.0" fill="#8c90bb" filter="url(#b5)"/>
<circle cx="699.2" cy="1125.0" r="163.5" fill="none" stroke="#7c7cb8" stroke-width="3" filter="url(#b1)"/>
<circle cx="700.0" cy="1125.0" r="159.0" fill="none" stroke="#c0c1e2" stroke-width="2.2" opacity="0.7" filter="url(#b1)"/>
<ellipse cx="716.0" cy="977.0" rx="30.0" ry="16.0" fill="#7468b4" opacity="0.8" filter="url(#b5)"/>
<path d="M586 1010 L632 982" stroke="#f0f0e8" stroke-width="4" opacity=".85" filter="url(#b1)"/>
<path d="M640 1230 Q690 1262 740 1258 L760 1250 L740 1290 Q690 1294 640 1270Z" fill="#a4a6d8" opacity=".75" filter="url(#b2)"/>
<path d="M722 1240 Q770 1250 830 1200 L845 1215 Q790 1275 716 1285Z" fill="#7a6cc4" opacity=".85" filter="url(#b2)"/>
<path d="M735 1262 Q780 1256 815 1222" stroke="#b0aee6" stroke-width="3" fill="none" opacity=".7" filter="url(#b1)"/>
<path d="M660 1262 Q690 1250 722 1240 L712 1264 L700 1292Z" fill="#6e62b0" opacity=".8" filter="url(#b2)"/>
<path d="M724 1238 L706 1294" stroke="#5443a6" stroke-width="4" filter="url(#b1)"/>
<circle cx="724" cy="1238" r="3" fill="#2c2060" filter="url(#b1)"/>
<path d="M640 1279 A165 165 0 0 0 860 1160" stroke="#c0c1e6" stroke-width="3.5" fill="none" opacity=".85" filter="url(#b1)"/>
<circle cx="724.0" cy="1116.0" r="137.0" fill="none" stroke="#9a9cd0" stroke-width="8" opacity="0.6" filter="url(#b2)"/>
<path d="M760 1238 A130 130 0 0 0 852 1140" stroke="#6c5cbc" stroke-width="9" fill="none" opacity=".8" filter="url(#b2)"/>
<circle cx="725.0" cy="1114.9" r="130.0" fill="#98a2c6" filter="url(#b1)"/>
<circle cx="725.0" cy="1114.9" r="117.0" fill="none" stroke="#7a70b8" stroke-width="22" opacity="0.45" filter="url(#b5)"/>
<circle cx="725.0" cy="1114.9" r="129.5" fill="none" stroke="#6a60b0" stroke-width="1.8" opacity="0.8" filter="url(#b1)"/>
<ellipse cx="735.0" cy="1120.0" rx="55.0" ry="55.0" fill="#a0abcc" opacity="0.8" filter="url(#b12)"/>
<path d="M783.7 1017.8h0M818.8 1168.2h0M779.5 1212.3h0M663.2 1059.7h0M726.1 1234.7h0M674.0 1149.1h0M832.2 1110.9h0M814.2 1164.3h0M690.7 1231.4h0M634.6 1130.9h0M677.1 1094.1h0M718.3 1093.8h0M763.5 1231.8h0M769.7 1150.5h0M839.2 1077.2h0M770.5 1025.7h0M699.0 1026.2h0M781.1 1092.0h0M599.8 1122.5h0M809.6 1046.5h0M792.9 1184.4h0M763.3 1176.1h0M702.2 1231.2h0M738.8 1037.6h0M750.9 1215.9h0M687.5 1194.2h0M714.7 1103.4h0M675.0 1004.0h0M709.3 1186.9h0M762.7 1214.4h0M650.9 1048.1h0M768.1 1146.8h0M734.3 1136.3h0M736.5 1162.6h0M749.8 1100.0h0M826.2 1124.3h0M635.7 1091.6h0M727.8 1235.9h0M664.4 1072.5h0M831.4 1123.3h0M824.6 1184.4h0M675.3 1223.9h0M825.5 1152.8h0M665.1 1106.7h0M686.8 1075.0h0M823.8 1158.2h0M827.8 1139.0h0M649.7 1210.5h0M746.4 999.5h0M818.8 1185.7h0M797.6 1084.9h0M800.2 1149.9h0M649.1 1030.7h0M646.6 1033.3h0M724.7 1205.8h0M693.8 1221.1h0M610.6 1102.6h0M638.5 1037.4h0M738.0 996.1h0M756.2 1229.8h0M658.1 1043.5h0M720.3 1102.7h0M793.9 1075.3h0M768.8 1026.5h0M644.3 1030.4h0M675.8 1183.6h0M626.3 1040.7h0M749.2 1177.5h0M801.9 1192.3h0M602.5 1144.3h0M714.4 1009.1h0M658.0 1015.8h0M754.9 1231.6h0M775.3 1103.2h0M711.1 1154.4h0M740.1 1045.0h0M607.3 1095.9h0M646.0 1032.6h0M666.6 1122.5h0M847.0 1095.1h0M793.4 1173.7h0M786.2 1044.2h0M622.7 1072.1h0M682.6 1125.9h0M778.6 1209.6h0M715.2 992.6h0M849.2 1131.6h0M655.8 1102.5h0M655.5 1078.4h0M740.4 998.2h0M669.8 1190.4h0M656.0 1201.7h0M776.4 1087.9h0M734.5 1129.2h0M783.4 1196.0h0M788.9 1069.1h0M769.6 1101.7h0M680.2 1011.1h0M700.2 999.2h0M631.1 1067.2h0M611.6 1093.3h0M787.2 1095.5h0M714.5 1216.7h0M784.0 1198.7h0M714.4 1182.0h0M751.0 1019.3h0M658.6 1177.7h0M620.8 1078.2h0M822.9 1177.1h0M650.0 1199.2h0M741.2 1169.3h0M639.5 1106.1h0M812.1 1199.0h0M656.6 1216.5h0M654.4 1066.5h0M790.8 1174.5h0M734.8 1211.6h0M683.5 1017.3h0M800.9 1200.9h0M723.8 1017.8h0M616.5 1059.6h0M813.1 1117.4h0M629.3 1151.4h0M620.3 1119.3h0M808.4 1046.9h0M784.4 1191.0h0M824.2 1103.7h0M673.3 1217.7h0M745.1 1043.4h0M663.7 1016.4h0M648.9 1017.1h0M785.1 1198.9h0M696.8 1020.4h0M782.7 1075.1h0M747.5 1224.9h0M628.6 1107.6h0M832.2 1130.4h0M647.3 1204.3h0M836.9 1134.5h0M781.9 1117.5h0M652.7 1034.0h0M813.0 1183.8h0M806.1 1163.3h0M708.6 1081.3h0M726.2 1104.5h0M653.2 1018.0h0M823.4 1054.9h0M715.5 1177.1h0M659.8 1148.1h0M624.3 1181.0h0M805.2 1044.8h0M820.0 1165.5h0M722.8 1127.2h0M745.2 1158.2h0M707.8 1199.8h0M622.1 1141.4h0M667.2 1136.2h0M635.8 1102.8h0M634.8 1192.0h0M754.4 1094.0h0M708.6 1238.2h0M801.3 1126.0h0M771.3 1114.5h0M760.7 1019.5h0M824.4 1041.5h0M719.7 1229.0h0M793.4 1046.6h0M658.2 1069.2h0M644.9 1185.3h0M634.0 1114.2h0M615.9 1094.6h0M821.1 1155.2h0M786.4 1033.0h0M789.6 1198.0h0M842.8 1138.8h0M732.7 1033.0h0M791.1 1061.0h0M785.5 1030.2h0M776.0 1009.5h0M739.8 1053.1h0M801.8 1018.7h0M781.1 1023.1h0M783.2 1157.4h0M729.8 1148.0h0M766.3 1084.9h0M708.4 1162.8h0M819.7 1085.5h0M685.7 1060.2h0M837.1 1126.7h0M729.2 1144.8h0M622.9 1043.6h0M654.2 1160.4h0M812.7 1044.9h0M676.8 1038.8h0M604.0 1114.7h0M803.9 1017.6h0M798.6 1156.2h0M674.6 1056.3h0M706.1 1121.7h0M629.4 1037.1h0M732.2 1018.4h0M716.7 1134.5h0M837.4 1059.1h0M619.3 1166.4h0M640.8 1072.4h0M716.4 1054.3h0M730.8 1229.1h0M768.0 1041.9h0M682.5 1082.3h0M741.4 1006.7h0M771.9 1013.2h0M714.3 1098.0h0M650.2 1045.1h0M666.5 1029.4h0M745.2 1058.1h0M704.5 1008.7h0M778.8 1161.8h0M728.9 1211.4h0M649.5 1058.6h0M705.5 1077.1h0M786.7 1218.6h0M701.9 1204.0h0M769.6 1023.4h0M712.2 1230.1h0M625.9 1040.1h0M765.1 1014.8h0M759.9 1180.4h0M622.5 1081.1h0M743.5 1169.0h0M631.3 1171.5h0M748.8 991.4h0M650.1 1047.9h0M835.6 1069.9h0M651.6 1028.0h0M657.0 1024.2h0M675.8 1195.0h0M796.5 1057.4h0M703.8 1176.5h0M631.8 1151.4h0M783.4 1100.1h0M653.7 1067.4h0M637.9 1205.0h0M810.3 1141.1h0M643.2 1141.8h0M671.7 1199.6h0M746.4 1184.7h0M642.2 1115.9h0M662.7 1054.0h0M809.1 1075.7h0M766.4 1066.4h0M788.5 1008.7h0M650.1 1024.1h0M710.8 1010.6h0M622.8 1107.8h0M824.7 1059.3h0M770.2 1170.7h0M641.0 1057.2h0M826.6 1173.3h0M608.4 1137.5h0M721.2 1237.6h0M675.8 1190.0h0M650.8 1075.1h0M741.5 1007.1h0M702.3 1141.8h0M613.2 1135.1h0M841.4 1074.4h0M794.8 1074.3h0M647.8 1206.0h0M600.0 1110.2h0M603.4 1112.2h0M730.8 1200.1h0M762.3 1108.2h0M817.2 1136.7h0M706.5 1031.6h0M830.1 1092.7h0M677.3 1058.6h0M774.2 1108.9h0M773.0 1228.8h0M839.0 1104.7h0M687.0 1002.6h0M711.8 1179.3h0M804.6 1023.9h0M689.8 1187.2h0M653.9 1069.3h0M637.7 1084.1h0M805.3 1090.9h0M689.0 1216.5h0M709.1 1093.3h0M782.3 1099.7h0M640.6 1130.4h0M825.3 1185.4h0M621.0 1086.2h0M733.9 1220.6h0M832.4 1178.3h0M801.3 1024.5h0M618.8 1049.4h0M686.4 1068.5h0M642.1 1026.0h0M830.6 1124.0h0M684.9 1177.6h0M794.6 1027.3h0M736.4 1072.6h0M835.5 1105.8h0M759.8 1133.1h0M608.3 1125.0h0M656.4 1043.2h0M836.8 1162.3h0M614.9 1059.2h0M736.3 1023.1h0M647.9 1100.1h0M631.9 1196.6h0M698.9 1005.8h0M804.0 1020.5h0M706.6 1024.4h0M744.7 1231.3h0M709.3 1074.1h0M733.9 1211.7h0M642.0 1032.8h0M800.3 1057.8h0M824.6 1044.4h0M641.5 1056.8h0M829.3 1061.5h0M764.5 1202.4h0M647.0 1118.6h0M689.9 1045.3h0M722.7 1195.6h0M786.0 1019.9h0M730.9 1039.1h0M782.0 1070.8h0M798.7 1032.9h0M740.7 1166.8h0M736.2 1214.6h0M671.8 1227.8h0M740.5 1032.5h0M652.8 1094.9h0M772.7 1231.4h0M794.0 1174.0h0M846.1 1144.3h0M711.1 1008.7h0M740.6 1072.4h0M782.7 1207.7h0M782.5 1176.0h0M770.4 1188.0h0M846.5 1121.6h0M774.6 1007.3h0M691.1 1031.5h0M661.4 1007.4h0M731.7 1120.5h0M727.4 1008.7h0M753.2 1036.4h0M730.0 1201.6h0M664.7 1205.1h0M800.0 1015.9h0M777.0 1229.0h0M711.7 1179.6h0M746.6 1233.5h0M798.4 1037.2h0M637.9 1137.2h0M614.0 1103.9h0M725.1 1195.1h0M652.7 1034.5h0M774.8 1110.3h0M810.0 1166.3h0M616.7 1084.1h0M650.2 1188.0h0M816.7 1062.2h0M824.3 1123.2h0M703.6 1219.9h0M732.6 1080.3h0M661.0 1082.6h0M810.2 1160.7h0M665.7 1084.4h0M648.5 1071.6h0M842.9 1097.4h0M636.0 1051.9h0M758.3 1069.8h0M722.5 1017.7h0M662.9 1087.6h0M813.1 1180.4h0M737.8 1205.3h0M674.8 1005.3h0M617.3 1112.9h0M820.8 1102.8h0M648.2 1177.7h0M609.5 1112.6h0M798.0 1217.5h0M744.8 1046.2h0M756.2 1181.7h0M698.7 1217.5h0M677.0 1023.4h0M651.6 1187.8h0M670.2 1165.6h0M648.9 1196.3h0M617.2 1114.5h0M729.9 1009.3h0M667.2 1122.1h0M662.4 1196.9h0M645.9 1155.6h0M704.7 1208.5h0M830.6 1052.5h0M614.9 1136.0h0M693.4 1005.4h0M623.3 1077.2h0M795.0 1104.4h0M794.8 1030.5h0M670.4 1004.2h0M770.1 1051.7h0M800.2 1209.6h0M839.0 1072.9h0M729.1 1059.6h0M644.5 1033.9h0M643.7 1168.1h0M806.2 1042.1h0M797.6 1215.6h0M842.5 1098.6h0M676.6 1012.3h0M698.5 1031.0h0M770.4 1088.3h0M659.9 1186.2h0M696.2 1024.8h0M715.0 1004.9h0M803.9 1017.1h0M660.0 1034.7h0M821.6 1184.3h0M625.4 1152.4h0M756.4 1041.2h0M836.0 1149.1h0M802.8 1178.9h0M696.8 997.9h0M678.9 1232.0h0M692.1 1203.9h0M785.0 1071.6h0M823.2 1140.4h0M750.1 1214.8h0M798.3 1203.4h0M695.2 1214.0h0M642.9 1131.4h0M707.7 1222.3h0M808.7 1080.2h0M687.5 1030.8h0M674.1 1135.6h0M818.0 1167.1h0M749.9 1181.1h0M618.1 1173.4h0M721.9 1221.3h0M700.6 1005.7h0M688.6 1192.0h0M715.3 1203.5h0M617.9 1086.8h0M800.9 1069.9h0M780.4 1162.5h0M700.8 1017.5h0M680.4 1229.8h0M703.7 996.4h0M824.0 1053.5h0M749.3 1227.7h0M663.3 1222.6h0M799.0 1149.9h0M670.6 1029.0h0M816.1 1134.0h0M729.8 1204.1h0M623.3 1162.6h0M762.1 1025.6h0M672.6 1199.7h0M751.1 1007.7h0M642.8 1165.8h0M822.4 1071.1h0M774.0 1022.3h0M758.7 1223.3h0M692.4 1218.4h0M796.0 1197.4h0M748.5 1006.6h0M723.8 1036.9h0M736.2 1155.8h0M770.3 1201.5h0M741.4 1036.5h0M669.9 1180.9h0M670.0 1215.7h0M825.6 1119.0h0M789.4 1008.0h0M677.5 1198.2h0M681.9 1202.3h0M654.9 1116.6h0M832.7 1168.8h0M767.3 1213.3h0M640.2 1070.8h0M644.8 1203.4h0M797.2 1195.4h0M646.0 1119.9h0M624.7 1101.0h0M691.4 999.7h0M722.6 1014.6h0M630.0 1064.3h0M806.2 1072.0h0M765.3 1012.4h0M691.7 999.5h0M743.2 1215.9h0M734.7 1068.6h0M836.7 1133.0h0M776.3 1142.6h0M799.3 1214.6h0M666.9 1195.8h0M774.9 1100.8h0M717.3 1052.1h0M832.7 1060.4h0M672.4 1036.4h0M620.7 1094.4h0M694.7 995.4h0M781.5 1046.7h0M630.0 1067.5h0M628.4 1195.2h0M673.6 1078.3h0M684.3 1154.8h0M706.8 1094.1h0M749.3 994.1h0M834.0 1102.4h0M682.3 1086.3h0M607.1 1149.4h0M764.7 1188.0h0M763.9 1182.3h0M674.8 1088.6h0M710.5 1000.2h0M742.2 1205.1h0M662.0 1056.3h0M830.4 1074.8h0M732.1 1051.1h0M720.9 1164.1h0M819.1 1099.9h0M641.4 1052.0h0M669.9 1227.8h0M735.4 1095.9h0M682.4 1119.4h0M817.8 1121.1h0M656.2 1034.9h0M682.1 1021.9h0M603.8 1081.5h0M717.8 1039.7h0M683.7 1164.6h0M748.1 1063.5h0M780.3 1169.2h0M610.1 1158.7h0M651.9 1117.0h0M806.3 1180.7h0M677.6 1210.2h0M687.7 1064.4h0M716.7 1188.8h0M793.1 1130.3h0M795.4 1014.2h0M638.0 1156.9h0M726.9 1214.5h0M763.7 1205.4h0M728.3 1231.8h0M656.7 1045.6h0M841.5 1154.5h0M772.6 1113.5h0M679.8 1128.2h0M712.5 1086.9h0" stroke="#4e3ea4" stroke-width="1.3" stroke-linecap="round" opacity=".75" filter="url(#bd)"/>
<path d="M622.9 1112.1h0M809.3 1144.8h0M698.2 1225.2h0M714.8 1136.8h0M727.0 1163.5h0M624.2 1110.5h0M736.3 1104.3h0M820.2 1190.3h0M664.8 1084.4h0M676.9 1164.9h0M609.8 1142.9h0M713.0 1223.7h0M777.2 1202.7h0M695.8 1022.8h0M674.8 1026.4h0M718.5 1220.2h0M815.2 1136.9h0M778.7 1158.9h0M848.4 1110.4h0M801.4 1195.5h0M632.3 1133.1h0M806.3 1196.3h0M689.9 1062.6h0M737.5 1058.7h0M809.8 1172.1h0M749.0 1215.0h0M812.5 1062.5h0M620.6 1045.1h0M831.2 1126.8h0M660.7 1185.5h0M794.0 1203.8h0M798.3 1036.5h0M668.7 1073.4h0M650.5 1187.8h0M734.3 1003.8h0M793.3 1054.7h0M663.4 1186.8h0M615.4 1169.9h0M724.4 1139.4h0M772.7 1220.8h0M626.1 1128.9h0M806.4 1099.7h0M760.1 1097.1h0M839.9 1116.3h0M766.3 1161.4h0M771.1 1008.4h0M718.0 1103.3h0M677.6 1104.7h0M659.5 1058.7h0M600.8 1098.5h0M635.8 1166.4h0M713.3 1214.3h0M674.2 1133.5h0M712.7 1118.6h0M787.7 1159.8h0M663.8 1030.5h0M753.3 1122.9h0M613.4 1125.9h0M727.3 1160.2h0M659.8 1074.9h0M830.8 1124.9h0M627.6 1137.0h0M785.2 1204.9h0M630.7 1168.9h0M621.5 1109.3h0M767.9 1031.0h0M823.8 1095.7h0M792.6 1189.8h0M668.0 1213.3h0M793.3 1170.5h0M688.7 1063.2h0M651.4 1184.6h0M808.3 1084.9h0M822.8 1112.2h0M749.4 1094.9h0M786.7 1151.4h0M650.0 1082.4h0M658.4 1184.1h0M652.2 1083.5h0M745.7 1228.3h0M786.9 1031.5h0M763.1 1045.8h0M702.4 1130.4h0M690.9 1117.5h0M803.7 1034.2h0M827.7 1093.6h0M680.2 1190.2h0M603.9 1146.5h0M840.6 1163.6h0M796.6 1097.9h0M619.9 1083.3h0M708.4 1058.4h0M775.2 1151.2h0M777.2 1063.0h0M677.5 1173.9h0M816.9 1076.5h0M692.7 1151.3h0M623.0 1179.7h0M805.0 1042.7h0M643.3 1158.5h0M665.7 1165.9h0M687.7 1013.9h0M638.8 1102.9h0M825.4 1159.0h0M613.1 1095.4h0M613.4 1098.4h0M797.2 1197.0h0M819.8 1145.8h0M762.4 1004.4h0M818.0 1072.9h0M776.4 1224.4h0M754.5 1027.6h0M719.3 1234.7h0M806.9 1025.7h0M672.9 1218.1h0M703.8 1175.7h0M815.1 1056.4h0M613.2 1123.1h0M798.4 1175.3h0M816.5 1055.3h0M721.4 1000.0h0M826.5 1161.1h0M746.0 1212.5h0M669.1 1161.3h0M802.2 1099.3h0M661.0 1052.7h0M650.9 1212.1h0M778.8 1023.2h0M747.8 1013.6h0M738.2 1017.8h0M841.0 1092.2h0M642.0 1106.4h0M794.6 1111.2h0M820.5 1055.7h0M741.0 1176.1h0M640.9 1031.3h0M774.6 1203.7h0M647.4 1186.2h0M819.8 1117.8h0M647.2 1022.5h0M732.1 996.8h0M725.6 1178.8h0M662.4 1038.1h0M662.0 1211.0h0M649.5 1183.1h0M788.4 1141.0h0M808.3 1043.0h0M822.5 1147.0h0M819.3 1192.9h0M626.6 1074.6h0M664.0 1089.8h0M823.8 1161.8h0M678.6 1019.5h0M648.0 1093.8h0M729.8 1070.2h0M640.5 1205.2h0M654.8 1035.7h0M645.9 1200.0h0M732.9 1118.6h0M785.4 1116.4h0M763.2 1213.8h0M750.6 1218.5h0M665.6 1056.5h0M681.6 1064.5h0M729.3 1036.0h0M666.6 1061.5h0M828.3 1123.1h0M766.3 1022.6h0M847.8 1124.0h0M819.5 1136.0h0M772.9 1013.8h0M666.5 1225.9h0M615.9 1120.9h0M829.5 1151.9h0M724.4 1053.6h0M635.3 1173.2h0M636.5 1130.7h0M791.8 1024.9h0M781.0 1203.3h0M827.5 1179.6h0M636.7 1161.8h0M768.8 1149.8h0M830.8 1111.5h0M806.2 1066.8h0M681.2 1190.3h0M693.7 1185.6h0M654.3 1023.7h0M787.6 1219.0h0M641.8 1206.1h0M658.0 1115.5h0M604.4 1129.6h0M662.4 1190.3h0M700.6 1021.5h0M662.6 1200.8h0M781.5 1119.6h0M808.6 1184.5h0M792.0 1077.6h0M811.9 1072.9h0M706.3 1026.8h0M784.4 1116.2h0M679.9 1135.9h0M652.2 1122.7h0M713.1 1163.1h0M707.7 1042.2h0M686.2 1076.3h0M798.2 1140.9h0M834.5 1070.6h0M797.9 1094.7h0M754.1 1026.9h0M630.2 1086.6h0M673.8 1019.1h0M726.5 1038.9h0M637.4 1057.8h0M822.2 1082.6h0M828.7 1051.1h0M755.8 1233.6h0M699.5 1150.6h0M722.2 1229.7h0M687.9 1146.4h0M731.8 1142.0h0M773.7 1007.6h0M807.9 1126.4h0M699.2 1223.9h0M830.9 1131.8h0M663.3 1170.6h0M637.9 1062.4h0M662.0 1189.8h0M720.1 1220.5h0M647.3 1169.7h0M731.4 1223.3h0M655.4 1125.8h0M782.8 1029.5h0M705.2 1066.0h0M721.2 1025.5h0M790.3 1024.8h0M799.3 1047.5h0M698.6 1012.8h0M824.5 1134.5h0M791.5 1143.3h0M610.1 1124.2h0M815.9 1064.9h0M845.0 1120.0h0M744.7 1025.2h0M710.8 1206.1h0M661.1 1153.5h0M661.9 1206.8h0M751.7 1165.6h0M678.1 1067.7h0M837.7 1075.0h0M770.3 1230.7h0M699.3 1084.4h0M746.7 1010.3h0M796.5 1198.1h0M705.7 1201.1h0M662.6 1202.6h0M667.3 1149.6h0M658.1 1215.4h0M672.5 1186.7h0M789.0 1153.0h0M820.9 1086.2h0M713.8 1199.7h0M775.5 1213.9h0M794.4 1057.5h0M749.9 1144.0h0M607.5 1126.5h0M766.9 997.5h0M826.3 1050.4h0M634.7 1147.4h0M803.3 1171.6h0M692.7 1044.1h0M766.3 1031.1h0M743.9 1023.1h0M683.4 1054.3h0M775.4 1221.4h0M800.0 1129.5h0M735.5 1097.6h0M698.2 1042.9h0M746.9 1048.8h0M751.0 1102.8h0M728.1 993.5h0M764.4 1135.1h0M608.4 1083.2h0M731.3 1019.6h0M794.0 1024.3h0M615.1 1132.8h0M798.4 1211.1h0M627.8 1178.1h0M711.8 1142.9h0M609.5 1150.1h0M765.3 1084.6h0M630.2 1191.8h0M646.3 1169.7h0M815.1 1130.3h0M727.6 1041.0h0M791.0 1051.0h0M643.5 1049.5h0M746.8 1180.9h0M754.3 1217.9h0M794.7 1209.1h0M661.3 1027.8h0M837.4 1170.8h0M718.5 1026.7h0M685.0 1098.7h0M815.9 1181.1h0M794.8 1201.6h0M602.1 1119.8h0M802.2 1048.1h0M660.0 1164.9h0M698.4 1199.0h0M612.7 1119.7h0M646.2 1200.4h0M769.1 1101.7h0M754.7 1084.6h0M690.3 1184.3h0M815.3 1176.3h0M810.9 1175.6h0M748.3 1217.1h0M700.9 1113.8h0M757.6 1094.8h0M684.3 1027.5h0M657.6 1175.9h0M710.6 1237.5h0M695.9 999.2h0M806.4 1080.4h0M752.1 1003.1h0M698.2 1083.8h0M622.9 1126.3h0M693.4 1224.0h0M706.7 1018.9h0M599.2 1114.6h0M812.4 1150.5h0M805.0 1200.7h0M825.9 1080.3h0M693.1 1008.2h0M736.7 1229.9h0M841.0 1130.2h0M844.0 1081.3h0M786.6 1206.7h0M814.4 1108.8h0M629.8 1186.6h0M716.3 1234.6h0M786.8 1086.5h0M819.7 1181.3h0M617.2 1096.4h0M669.1 1180.4h0M759.3 1072.6h0M733.6 1145.6h0M753.1 1035.7h0M807.7 1062.0h0M663.6 1176.2h0M782.4 1221.1h0M759.4 1177.4h0M622.0 1047.3h0M621.5 1075.2h0M719.2 1211.4h0M631.2 1110.1h0M690.6 1122.0h0M835.2 1137.9h0M824.9 1168.3h0M721.2 1089.5h0M801.5 1183.7h0M614.3 1060.6h0M794.4 1111.6h0M624.9 1187.8h0M835.0 1159.2h0M722.1 1034.2h0M759.4 1183.3h0M793.8 1189.9h0M720.5 1124.7h0M815.7 1137.8h0M767.0 1140.7h0M815.8 1136.9h0M739.4 1204.1h0M721.1 1003.6h0M626.8 1181.9h0M653.0 1032.5h0M699.7 1005.3h0M646.9 1187.1h0M650.0 1041.3h0M699.6 1038.7h0M811.4 1181.9h0M807.8 1176.8h0M733.7 1158.0h0M833.7 1083.0h0M781.7 1107.0h0M808.6 1142.0h0M620.1 1163.1h0M836.5 1162.1h0M746.2 998.3h0M740.8 1165.0h0M632.1 1185.5h0M784.2 1093.3h0M674.9 1040.4h0M645.6 1178.5h0M819.8 1158.9h0M770.0 1110.0h0M686.9 999.1h0M813.2 1035.7h0M744.5 1226.5h0M778.1 1193.6h0M673.8 1007.3h0M645.7 1152.9h0M733.9 1013.7h0M646.5 1121.1h0M800.0 1199.8h0M688.2 1164.0h0M824.3 1120.9h0M765.0 1124.5h0M693.9 1180.9h0M817.5 1060.5h0M652.6 1044.4h0M632.3 1088.9h0M729.0 1135.7h0M686.2 1021.3h0M803.3 1177.3h0M732.1 1024.4h0M825.1 1171.0h0M819.9 1113.9h0M640.2 1045.2h0M804.4 1032.0h0M794.6 1092.6h0M767.6 1207.0h0M834.9 1162.9h0M633.9 1112.9h0M685.2 1007.6h0M668.9 1074.9h0M772.2 1030.0h0M619.6 1121.5h0M840.1 1095.0h0M767.4 1022.1h0M644.4 1158.7h0M616.8 1105.7h0M709.2 1012.5h0M682.8 1221.1h0M773.5 1189.8h0M714.1 1016.7h0M837.5 1059.1h0M659.4 1160.2h0M805.3 1096.5h0M776.4 1013.2h0M739.0 1179.8h0M635.3 1156.0h0M708.1 1224.3h0M690.3 996.8h0M838.0 1063.4h0M629.2 1172.5h0M715.0 1206.4h0M801.6 1140.3h0M795.2 1103.5h0M682.2 1195.9h0M697.7 1134.9h0M664.4 1207.1h0M660.7 1193.6h0M702.1 1034.0h0M710.1 1127.3h0M690.7 1055.2h0M731.0 1073.0h0M603.7 1106.8h0M804.3 1202.3h0M734.1 1232.4h0M719.6 1012.2h0M787.3 1077.6h0M653.0 1011.6h0M742.8 1216.8h0M610.0 1153.5h0M685.0 1174.7h0M781.6 1155.0h0M731.2 1038.7h0M622.4 1114.6h0M756.6 1192.7h0M751.5 1010.2h0M743.9 1210.4h0M754.5 1009.4h0M695.6 1078.5h0M819.6 1033.6h0M785.8 1020.2h0M709.5 1212.8h0M677.5 1137.2h0M754.2 1174.7h0M631.1 1083.1h0M828.9 1084.5h0M600.3 1108.9h0M732.7 1004.7h0M726.6 1069.4h0M808.9 1029.0h0M642.8 1078.0h0M803.6 1044.8h0M792.0 1133.0h0M782.4 1137.4h0M642.6 1057.3h0M617.0 1084.9h0M664.6 1220.9h0M776.1 1032.2h0M710.9 1233.2h0M667.6 1027.0h0M750.1 1033.8h0M780.6 1018.2h0M729.5 1036.3h0M732.7 999.7h0M723.8 1226.4h0M696.8 1041.7h0M747.6 1190.8h0M725.5 1233.6h0M814.7 1090.3h0M737.4 1195.4h0M729.2 1179.8h0M683.7 1173.2h0M679.2 1165.1h0M760.1 1062.8h0M729.5 1142.2h0M785.7 1069.4h0M635.8 1038.1h0M624.2 1071.8h0M790.3 1011.8h0M798.9 1070.4h0M776.8 1216.1h0M695.8 993.1h0M690.0 1227.5h0M664.2 1031.8h0M620.9 1050.0h0M824.0 1179.2h0M632.2 1181.3h0M820.9 1144.3h0M616.5 1103.6h0M663.4 1007.0h0M682.7 1201.5h0M806.4 1173.8h0M685.5 1069.7h0M782.7 1038.5h0M643.7 1108.2h0M712.8 1107.9h0M795.6 1196.0h0M662.5 1149.8h0M697.9 1007.8h0M741.8 1013.2h0M807.1 1110.8h0M629.9 1138.0h0M689.0 1114.6h0M793.5 1196.2h0M695.9 1117.4h0M657.9 1102.5h0M652.7 1195.5h0M616.7 1139.9h0M734.2 1239.7h0M755.4 1210.4h0M825.2 1176.4h0M648.6 1047.6h0M730.5 1218.5h0M657.1 1092.8h0M756.2 1215.1h0M825.2 1089.7h0M786.4 1202.0h0M736.2 1137.2h0M821.8 1148.0h0M843.2 1107.0h0M642.2 1204.6h0M773.8 1214.6h0M687.9 1200.6h0M659.7 1119.6h0M835.4 1061.6h0M720.6 1221.4h0M663.1 1161.5h0M669.9 1083.3h0M726.7 1039.0h0M726.2 1064.3h0" stroke="#4e3ea4" stroke-width="1.8" stroke-linecap="round" opacity=".75" filter="url(#bd)"/>
<path d="M702.5 1173.6h0M719.2 1038.3h0M833.9 1149.0h0M713.4 1006.6h0M784.1 1161.6h0M801.9 1034.3h0M717.7 1215.8h0M622.0 1158.7h0M755.9 1067.3h0M626.0 1156.1h0M689.7 1012.7h0M800.4 1197.9h0M690.5 1189.3h0M699.0 1220.9h0M760.4 1196.1h0M701.1 1055.6h0M704.3 992.2h0M634.7 1181.3h0M681.8 1023.7h0M746.5 1010.7h0M623.2 1103.2h0M621.8 1087.7h0M712.1 1017.0h0M811.1 1064.3h0M817.6 1052.7h0M825.9 1179.3h0M828.6 1114.9h0M829.4 1137.5h0M651.4 1165.8h0M825.7 1099.0h0M795.0 1053.6h0M746.5 1022.9h0M699.8 1205.5h0M836.1 1084.7h0M830.0 1077.0h0M706.4 1212.5h0M748.7 1052.2h0M769.4 1006.3h0M687.3 1037.7h0M745.6 1166.2h0M665.6 1176.8h0M636.5 1076.3h0M709.9 1129.4h0M784.2 1111.8h0M727.0 1074.0h0M788.5 1210.8h0M682.7 1141.1h0M781.6 1010.4h0M793.8 1191.3h0M802.3 1188.2h0M712.6 1199.9h0M628.1 1189.4h0M631.4 1182.3h0M823.6 1136.5h0M815.5 1035.3h0M757.1 1216.1h0M789.4 1219.6h0M701.2 1051.6h0M652.4 1174.4h0M653.9 1145.3h0M673.2 1218.4h0M766.5 1034.8h0M708.9 1041.7h0M842.0 1148.1h0M762.4 1182.9h0M648.4 1182.6h0M680.7 1207.4h0M762.3 1011.7h0M773.8 1094.4h0M604.8 1099.1h0M827.6 1098.1h0M767.8 1047.0h0M812.6 1121.7h0M769.5 1186.2h0M817.2 1168.6h0M749.8 1002.8h0M661.6 1183.7h0M639.8 1033.7h0M755.4 1046.4h0M793.8 1044.4h0M752.4 1225.6h0M810.1 1027.4h0M605.9 1112.1h0M687.0 1044.3h0M812.2 1073.5h0M723.7 1210.2h0M762.6 1054.5h0M711.9 1215.0h0M685.0 1056.8h0M671.3 1033.3h0M758.8 1034.7h0M670.9 1038.8h0M666.0 1185.1h0M811.8 1119.8h0M616.0 1156.8h0M744.8 1207.9h0M773.3 1221.6h0M805.5 1054.9h0M829.3 1137.3h0M661.0 1047.7h0M716.1 1230.1h0M664.1 1182.4h0M709.3 1039.3h0M806.2 1099.3h0M720.2 1035.2h0M715.0 1178.7h0M723.5 1103.4h0M621.6 1116.1h0M760.2 1056.4h0M696.4 1011.9h0M631.1 1159.2h0M737.3 1005.4h0M760.1 1180.7h0M635.2 1169.6h0M820.4 1164.4h0M778.8 1187.1h0M747.5 1030.6h0M619.9 1160.1h0M638.2 1184.9h0M761.8 1043.5h0M662.9 1012.4h0M787.7 1054.7h0M654.6 1134.2h0M657.4 1168.1h0M813.4 1160.6h0M807.9 1086.9h0M600.7 1120.4h0M781.8 1207.1h0M708.4 1232.7h0M718.2 1225.4h0M721.5 1041.3h0M635.8 1096.9h0M732.5 1197.4h0M658.0 1196.2h0M766.2 998.4h0M777.8 1136.8h0M631.7 1079.5h0M823.1 1104.6h0M780.7 1150.2h0M707.9 1176.2h0M676.7 1042.9h0M674.9 1193.1h0M835.6 1116.1h0M750.4 1026.6h0M670.8 1033.9h0M770.1 1150.6h0M780.9 1200.6h0M684.7 1130.8h0M698.2 1086.0h0M821.1 1158.8h0M697.7 1236.3h0M760.0 1094.2h0M641.0 1144.4h0M671.9 1080.2h0M618.7 1054.4h0M772.7 1105.8h0M690.3 1188.5h0M664.5 1220.1h0M808.6 1169.0h0M803.1 1177.8h0M830.2 1135.6h0M771.5 1081.9h0M669.0 1204.6h0M652.5 1170.1h0M734.8 1038.7h0M603.6 1135.9h0M724.2 994.3h0M752.3 1055.9h0M728.5 1001.3h0M640.5 1193.6h0M756.3 1003.5h0M751.7 1020.7h0M752.0 1037.4h0M778.6 1181.5h0M785.5 1190.4h0M640.8 1039.3h0M647.0 1205.1h0M752.1 1219.6h0M808.2 1122.1h0M754.3 1007.0h0M679.4 1214.6h0M788.5 1212.8h0M790.1 1203.5h0M819.8 1172.8h0M795.0 1046.2h0M618.0 1119.0h0M842.9 1070.8h0M796.5 1033.7h0M724.9 1235.3h0M744.1 1193.9h0M633.9 1125.9h0M806.9 1092.1h0M809.9 1192.8h0M712.1 1238.6h0M822.7 1187.4h0M781.9 1206.0h0M782.4 1090.7h0M647.7 1165.3h0M752.5 1006.3h0M791.4 1039.4h0M721.4 1108.2h0M635.4 1165.1h0M707.2 1224.0h0M735.8 1095.2h0M681.2 1169.2h0M846.0 1139.9h0M665.2 1164.3h0M661.2 1082.6h0M738.5 1107.0h0M608.9 1148.2h0M754.7 1229.1h0M646.4 1042.8h0M674.1 1038.4h0M789.7 1189.4h0M610.5 1091.0h0M825.2 1147.9h0M783.5 1007.7h0M721.3 1000.1h0M677.6 1151.1h0M652.8 1132.7h0M656.4 1205.4h0M679.6 1218.6h0M641.4 1075.6h0M774.7 1108.9h0M814.8 1112.2h0M791.7 1065.9h0M774.3 1176.6h0M805.6 1186.4h0M799.5 1201.5h0M821.6 1156.0h0M809.4 1126.3h0M683.8 1179.4h0M710.3 1039.3h0M661.4 1166.8h0M837.6 1100.1h0M717.1 1194.1h0M626.8 1044.3h0M672.1 1206.6h0M690.8 997.2h0M712.5 1000.3h0M767.8 1198.8h0M747.3 1058.9h0M815.2 1178.4h0M678.5 1008.5h0M758.7 1022.9h0M732.1 1045.5h0M754.2 1207.0h0M649.3 1050.6h0M671.9 1088.8h0M636.2 1059.2h0M804.3 1108.9h0M638.6 1167.1h0M734.7 1011.6h0M744.0 1053.1h0M653.5 1126.0h0M753.8 1080.5h0M699.7 1156.5h0M745.3 1164.0h0M635.0 1151.5h0M652.1 1154.2h0M676.9 1109.6h0M658.2 1166.6h0M787.5 1089.7h0M684.6 1129.7h0M653.8 1071.2h0M808.1 1167.9h0M617.1 1169.5h0M627.9 1107.1h0M616.2 1083.8h0M720.6 1230.8h0M836.1 1080.3h0M807.0 1022.6h0M764.0 1181.2h0M747.0 1037.4h0M754.4 1177.7h0M635.3 1074.5h0M776.9 1225.3h0M679.3 1046.0h0M723.7 1035.4h0M840.2 1118.3h0M792.1 1185.7h0M692.7 1213.1h0M836.7 1075.4h0M783.5 1115.7h0M786.1 1097.9h0M759.3 995.7h0M608.9 1161.5h0M662.8 1192.2h0M760.7 1229.2h0M720.8 999.1h0M678.5 1026.3h0M736.9 998.4h0M820.0 1168.7h0M690.2 1001.4h0M665.7 1058.6h0M607.8 1154.1h0M737.0 1173.8h0M753.5 1073.1h0M649.2 1200.2h0M679.1 1007.7h0M679.3 1170.2h0M602.9 1118.3h0M623.1 1114.6h0M609.8 1161.1h0M842.2 1089.6h0M631.1 1094.3h0M654.1 1186.9h0M706.6 1009.1h0M679.6 1206.0h0M755.4 1231.7h0M704.7 1085.8h0M825.4 1106.8h0M712.7 1107.9h0M729.7 1187.1h0M639.9 1063.4h0M840.7 1155.4h0M637.9 1035.4h0M692.5 1201.5h0M623.3 1125.2h0M802.4 1153.4h0M701.7 1225.5h0M611.6 1081.7h0M768.3 1136.1h0M835.5 1069.1h0M679.9 1080.5h0M662.0 1167.7h0M822.5 1143.3h0M757.7 1157.9h0M622.3 1139.1h0M835.7 1160.8h0M735.4 1098.1h0M619.8 1061.6h0M646.4 1157.9h0M825.0 1064.5h0M724.4 1004.2h0M758.8 1097.9h0M781.6 1215.4h0M715.1 1131.8h0M622.3 1064.0h0M690.8 1218.7h0M689.2 996.7h0M800.5 1023.8h0M628.4 1190.3h0M658.1 1053.7h0M674.9 1116.3h0M784.4 1080.8h0M698.2 1046.5h0M656.5 1201.7h0M704.6 1109.8h0M840.6 1126.9h0M623.9 1071.6h0M657.4 1155.3h0M728.0 996.9h0M658.1 1034.0h0M754.8 1224.1h0M806.8 1204.9h0M801.4 1198.6h0M780.0 1120.4h0M736.6 1097.1h0M643.0 1050.2h0M819.5 1083.9h0M757.2 1227.0h0M717.0 1222.7h0M644.9 1159.3h0M699.4 1001.4h0M633.7 1034.3h0M600.5 1132.8h0M665.5 1224.9h0M749.0 1045.7h0M664.6 1091.4h0M722.0 1221.1h0M664.6 1225.1h0M678.6 1211.8h0M629.8 1068.7h0M714.2 1214.9h0M765.3 1192.9h0M615.8 1126.0h0M689.6 1021.6h0M720.7 1046.6h0M824.3 1113.9h0M732.1 1153.1h0M825.4 1064.5h0M671.9 1176.9h0M655.6 1096.3h0M694.6 1124.3h0M640.0 1079.2h0M652.1 1147.5h0M836.6 1083.6h0M625.1 1189.3h0M845.7 1092.0h0M730.5 1071.9h0M844.4 1130.6h0M780.9 1069.8h0M678.9 1222.4h0M685.5 1227.2h0M822.3 1075.2h0M814.3 1087.6h0M736.8 1068.9h0M616.6 1100.5h0M633.5 1081.9h0M798.0 1151.0h0M728.6 1219.5h0M841.8 1094.8h0M604.5 1135.1h0M624.3 1189.4h0M743.0 992.4h0M780.9 1192.4h0M712.0 1142.9h0M615.4 1065.0h0M714.7 1192.1h0M648.3 1190.9h0M688.4 1218.7h0M804.9 1191.7h0M804.0 1125.5h0M782.0 1152.9h0M737.5 1229.2h0M655.5 1217.7h0M776.8 1214.6h0M725.0 1239.0h0M637.6 1162.9h0M679.1 1208.9h0M733.2 1235.9h0M831.5 1138.4h0M621.1 1140.3h0M703.2 1145.4h0M841.6 1126.5h0M746.1 1170.9h0M740.7 1199.4h0M662.0 1067.0h0M699.4 1005.6h0M677.8 1178.6h0M702.0 1217.2h0M762.2 1213.6h0M656.0 1219.8h0M622.3 1101.3h0M715.7 1155.1h0M674.6 1225.1h0M818.3 1098.5h0M748.0 1168.3h0M792.5 1025.0h0M798.4 1201.0h0M621.7 1097.8h0M670.1 1063.9h0M722.9 1170.3h0M634.9 1117.9h0M800.2 1021.4h0M684.1 1180.5h0M696.0 1034.1h0M618.2 1052.1h0M669.6 1036.3h0M624.8 1089.8h0M602.1 1090.0h0M753.2 1148.4h0M644.4 1051.6h0M714.5 1096.8h0M755.4 1133.1h0M763.3 1004.0h0M660.8 1063.5h0M809.6 1199.0h0M666.3 1126.7h0M682.3 1075.0h0M672.9 1187.3h0M726.0 1147.1h0M816.7 1115.2h0M844.5 1146.4h0M763.0 1218.0h0M658.5 1014.0h0M730.3 1042.8h0M738.7 1234.1h0M620.0 1079.5h0M787.5 1185.4h0M739.7 1222.3h0M832.8 1051.4h0M734.0 1203.2h0M614.9 1066.2h0M675.0 1009.1h0M611.0 1062.7h0M747.9 1124.1h0M745.5 1101.1h0M715.9 1202.6h0M721.9 1088.4h0M698.0 1198.3h0M656.8 1051.0h0M703.9 1011.7h0M716.5 1177.2h0M760.3 1155.6h0M728.5 1225.4h0M714.7 1186.1h0M803.9 1067.6h0M772.1 1001.7h0M614.2 1123.2h0M777.4 1005.6h0M631.5 1088.9h0M751.4 1154.6h0M620.3 1108.0h0M670.1 1133.7h0M834.9 1138.7h0M615.2 1171.1h0M717.0 1167.6h0M717.7 1225.1h0M662.8 1060.5h0M703.8 1024.0h0M735.9 1156.7h0M688.4 1004.0h0M758.7 1145.9h0M748.9 1057.0h0M699.6 1022.9h0M683.1 1210.3h0M726.4 1237.1h0M795.6 1097.5h0M733.9 1009.5h0M651.3 1123.0h0M653.7 1018.3h0M766.0 996.6h0M611.1 1161.8h0M833.4 1165.5h0M830.5 1078.1h0M760.1 1199.7h0M834.7 1064.5h0M631.1 1078.6h0M735.5 995.0h0M641.6 1126.6h0M728.4 1211.2h0M749.0 1231.0h0M641.7 1026.7h0M813.4 1134.8h0M627.1 1073.6h0M718.1 1101.2h0M671.6 1214.7h0M737.9 1234.9h0M813.4 1054.0h0M668.5 1217.9h0M774.3 1115.8h0M652.3 1121.7h0M838.4 1158.3h0M708.4 1043.1h0M780.1 1021.2h0M725.2 1025.6h0M672.3 1081.5h0M702.4 1197.7h0M828.4 1152.5h0M628.7 1185.9h0M828.9 1077.4h0" stroke="#4e3ea4" stroke-width="2.3" stroke-linecap="round" opacity=".75" filter="url(#bd)"/>
<path d="M689.6 1052.5h0M630.1 1084.0h0M646.2 1142.3h0M642.8 1133.1h0M782.2 1174.6h0M710.3 1075.9h0M789.7 1215.1h0M681.5 1064.6h0M824.4 1191.6h0M800.9 1054.2h0M640.5 1194.8h0M804.7 1039.8h0M818.4 1055.9h0M783.9 1035.3h0M814.0 1132.6h0M672.9 1060.8h0M639.0 1196.4h0M683.2 1173.6h0M668.1 1022.5h0M836.8 1103.5h0M635.4 1176.0h0M776.2 1043.9h0M712.9 1193.6h0M664.2 1195.2h0M716.6 1191.7h0M759.1 1214.1h0M704.5 1077.0h0M805.4 1145.8h0M720.1 1064.7h0M666.4 1015.4h0M616.1 1132.1h0M645.0 1127.3h0M762.1 1069.2h0M669.1 1055.6h0M836.2 1097.6h0M720.7 1209.5h0M844.0 1135.9h0M821.2 1076.4h0M665.5 1164.1h0M789.1 1061.4h0M649.0 1032.9h0M641.1 1146.8h0M651.2 1106.3h0M669.0 1049.9h0M667.0 1099.4h0M842.5 1083.0h0M737.5 1195.7h0M777.6 1031.7h0M717.3 1006.5h0M706.8 1212.5h0M833.7 1119.5h0M604.1 1116.9h0M634.9 1105.0h0M815.1 1030.1h0M682.9 1008.8h0M601.6 1090.2h0M703.6 1113.6h0M842.2 1119.4h0M664.7 1161.0h0M618.7 1171.4h0M729.7 1191.2h0M636.7 1201.1h0M797.0 1192.5h0M617.1 1170.8h0M746.1 1181.9h0M695.5 1061.0h0M741.6 1144.3h0M762.1 1107.8h0M787.9 1016.8h0M746.0 1141.4h0M767.1 1085.9h0M759.6 1017.3h0M638.6 1026.7h0M696.2 1058.2h0M623.4 1089.9h0M798.4 1121.3h0M651.4 1045.5h0M695.7 1015.9h0M665.2 1079.6h0M820.7 1143.0h0M809.1 1182.5h0M690.8 1048.6h0M728.8 1189.8h0M779.9 1203.4h0M789.3 1028.0h0M659.9 1202.6h0M788.9 1175.3h0M671.9 1038.7h0M842.1 1101.9h0M633.0 1141.3h0M734.8 1214.4h0M722.7 1179.8h0M703.8 1030.0h0M689.6 1055.9h0M695.7 1051.5h0M836.5 1150.3h0M603.5 1117.5h0M784.1 1221.9h0M756.6 1176.7h0M679.9 1085.5h0M627.0 1058.8h0M731.0 1211.3h0M744.2 1232.2h0M665.4 1024.6h0M797.3 1196.9h0M658.8 1193.1h0M829.8 1071.7h0M615.5 1174.5h0M737.7 1045.4h0M813.9 1037.4h0M774.0 1169.5h0M820.9 1043.7h0M643.0 1062.7h0M719.4 1152.2h0M803.5 1152.7h0M695.5 1038.6h0M778.8 1040.8h0M694.7 996.2h0M741.4 1008.8h0M734.5 1125.6h0M821.3 1183.1h0M632.2 1141.0h0M732.0 1020.0h0M772.2 1084.1h0M697.0 1016.3h0M838.5 1132.2h0M752.2 1217.4h0M679.8 1014.2h0M684.6 1018.3h0M694.4 1151.2h0M783.1 1225.9h0M808.6 1028.6h0M604.5 1126.3h0M616.5 1069.7h0M620.5 1141.1h0M719.5 1022.7h0M640.2 1174.9h0M734.2 1201.4h0M755.6 1195.7h0M788.9 1208.7h0M765.5 1186.1h0M829.1 1093.5h0M652.0 1191.8h0M799.0 1049.3h0M663.3 1205.6h0M688.7 1017.8h0M804.4 1201.4h0M762.1 1012.2h0M642.8 1035.3h0M795.7 1213.9h0M701.8 999.7h0M614.5 1151.1h0M661.1 1066.2h0M718.5 1223.1h0M752.3 1196.1h0M768.3 1035.2h0M818.2 1030.8h0M821.1 1043.8h0M811.0 1076.2h0M676.7 1077.8h0M830.8 1098.8h0M699.9 1011.7h0M690.4 1128.0h0M760.4 1194.7h0M819.5 1161.8h0M812.2 1178.6h0M636.1 1128.0h0M659.3 1218.3h0M669.2 1048.1h0M645.1 1210.6h0M612.3 1146.7h0M833.8 1094.9h0M679.9 1015.9h0M780.6 1203.1h0M817.6 1037.7h0M659.9 1117.7h0M688.4 1202.6h0M820.9 1131.3h0M850.5 1110.1h0M774.1 1031.6h0M614.3 1165.3h0M631.4 1156.6h0M845.6 1107.8h0M647.1 1082.5h0M629.5 1178.3h0M718.0 1117.8h0M787.3 1025.4h0M648.0 1109.7h0M719.0 1057.8h0M696.8 999.0h0M668.0 1216.3h0M683.0 1112.5h0M850.2 1111.1h0M609.4 1103.2h0M766.8 1155.3h0M632.3 1103.4h0M745.2 1001.0h0M791.1 1218.8h0M684.0 1164.1h0M682.3 1020.6h0M843.3 1126.6h0M830.1 1057.2h0M656.6 1177.7h0M827.4 1185.1h0M676.4 1112.0h0M776.1 1196.8h0M720.6 1168.5h0M666.7 1102.4h0M682.2 1028.6h0M707.4 1228.2h0M655.1 1043.2h0M788.4 1172.8h0M680.9 1206.1h0M801.6 1124.3h0M610.2 1066.7h0M714.6 1143.5h0M667.0 1046.2h0M644.4 1060.1h0M689.9 1222.1h0M784.1 1012.6h0M733.9 1018.5h0M616.9 1079.9h0M661.3 1010.9h0M670.4 1043.9h0M788.8 1017.5h0M685.0 997.7h0M717.7 1213.9h0M834.3 1105.7h0M779.8 1009.1h0M610.1 1064.3h0M817.9 1034.4h0M769.9 1108.6h0M727.0 1217.5h0M761.7 1138.1h0M737.1 1219.7h0M624.7 1077.3h0M705.2 1196.7h0M830.6 1181.0h0M691.7 1036.7h0M731.4 1214.5h0M809.6 1138.8h0M715.8 1200.6h0M673.0 1066.4h0M644.2 1082.3h0M605.5 1137.5h0M754.4 1221.7h0M696.0 1210.2h0M783.0 1172.1h0M750.6 1205.2h0M787.4 1134.1h0M616.5 1151.4h0M711.8 1234.5h0M735.0 1066.2h0M747.8 1210.5h0M764.4 1157.8h0M808.2 1201.9h0M835.0 1104.3h0M623.6 1079.4h0M705.6 1156.7h0M781.8 1156.9h0M647.4 1204.2h0M792.7 1157.0h0M674.6 1047.7h0M644.6 1070.7h0M846.7 1096.0h0M670.1 1154.1h0M839.8 1131.7h0M691.6 1019.7h0M719.5 1003.5h0M846.7 1111.0h0M688.0 1047.7h0M661.6 1062.9h0M788.9 1142.7h0M739.4 1037.5h0M824.9 1125.3h0M818.2 1049.8h0M666.8 1199.6h0M717.3 1019.8h0M800.8 1156.7h0M787.8 1170.6h0M785.7 1169.0h0M833.0 1094.7h0M744.1 1219.3h0M669.3 1148.8h0M790.2 1205.0h0M751.9 1201.4h0M654.2 1203.9h0M620.3 1062.5h0M835.5 1056.3h0M789.8 1060.5h0M702.0 1237.8h0M839.9 1092.1h0M716.3 1037.8h0M818.6 1093.3h0M772.1 1054.6h0M686.8 1204.6h0M633.2 1109.1h0M608.9 1103.1h0M636.1 1132.5h0M727.9 1077.8h0M755.2 1180.9h0M816.2 1052.7h0M703.6 1032.1h0M800.8 1033.7h0M781.6 1038.6h0M733.2 1020.0h0M712.2 1019.9h0M703.0 1139.7h0M615.9 1081.7h0M794.0 1155.9h0M645.1 1206.2h0M745.2 1204.9h0M634.9 1170.8h0M805.8 1101.6h0M794.4 1044.5h0M787.2 1188.1h0M817.1 1103.6h0M842.3 1148.9h0M746.2 1237.0h0M608.6 1123.1h0M651.5 1070.6h0M773.3 1207.8h0M664.9 1212.0h0M810.1 1086.4h0M661.5 1166.2h0M818.5 1170.3h0M624.9 1110.1h0M709.1 1044.4h0M726.2 1227.7h0M628.2 1066.9h0M719.6 1236.4h0M717.5 1237.8h0M750.8 1237.4h0M807.1 1029.0h0M781.4 1030.3h0M748.6 1047.6h0M676.0 1225.0h0M697.7 1106.3h0M785.4 1203.6h0M742.5 1106.3h0M832.8 1101.6h0M840.0 1063.4h0M744.9 1166.6h0M646.8 1211.9h0M721.6 1198.1h0M843.7 1078.5h0M733.1 1066.9h0M825.2 1089.7h0M749.0 996.0h0M614.9 1068.8h0M761.3 1220.8h0M637.6 1060.9h0M766.7 1010.6h0M644.8 1041.2h0M661.6 1028.7h0M795.6 1071.2h0M627.1 1123.4h0M673.8 1224.4h0M675.1 1006.0h0M643.6 1189.8h0M658.0 1056.7h0M703.0 991.3h0M677.8 1119.8h0M707.4 992.3h0M758.6 1216.1h0M685.0 1214.4h0M728.4 1009.2h0M754.4 1031.3h0M706.9 1009.6h0M790.4 1212.2h0M649.3 1108.0h0M625.0 1099.1h0M756.9 1205.9h0M848.8 1121.7h0M811.3 1031.3h0M647.2 1069.4h0M846.2 1107.7h0M658.0 1167.6h0M616.5 1095.8h0M832.3 1170.5h0M840.9 1118.3h0M817.7 1044.9h0M711.0 1013.9h0M685.3 1223.3h0M616.7 1178.7h0M776.0 1011.2h0M714.6 1008.7h0M686.9 1139.4h0M846.2 1106.6h0M706.7 1037.1h0M782.2 1055.8h0M720.8 1187.1h0M815.9 1142.9h0M789.1 1188.1h0M660.1 1157.8h0M674.3 1020.2h0M709.0 1167.0h0M736.9 1110.2h0M679.6 1069.9h0M680.6 997.1h0M736.3 1025.7h0M840.2 1081.7h0M722.3 1046.2h0M651.9 1099.2h0M627.0 1045.9h0M692.6 1014.7h0M674.4 1028.4h0M807.9 1107.4h0M828.8 1106.8h0M805.4 1053.4h0M615.8 1102.8h0M623.8 1169.3h0M640.9 1077.3h0M601.3 1108.6h0M774.2 1204.5h0M681.1 1162.8h0M759.2 1164.6h0M691.2 1005.1h0M777.1 1213.7h0M657.1 1166.9h0M716.5 1233.9h0M723.5 1119.5h0M844.5 1083.1h0M635.3 1037.2h0M810.2 1128.7h0M712.2 1011.8h0M807.5 1040.7h0M684.0 1158.2h0M756.3 1090.4h0M636.7 1062.2h0M659.5 1091.7h0M772.0 1091.9h0M782.7 1149.8h0M710.6 1136.6h0M848.4 1091.1h0M839.1 1113.2h0M781.9 1017.1h0M710.6 996.7h0M652.0 1102.1h0M826.9 1092.3h0M706.5 1221.9h0M696.0 1075.1h0M699.3 1049.4h0M699.7 1056.9h0M680.2 1044.8h0M657.6 1070.9h0M807.4 1091.7h0M698.0 1027.6h0M748.8 993.2h0M755.3 1001.8h0M841.2 1149.0h0M759.2 1080.4h0M660.1 1007.7h0M787.1 1092.0h0M746.2 1001.1h0M762.2 1040.9h0M747.3 1085.4h0M762.0 1103.0h0M795.6 1062.6h0M672.5 1044.1h0M824.2 1113.8h0M672.9 1087.6h0M777.2 1033.4h0M766.2 1138.5h0M788.3 1196.7h0M780.4 1182.5h0M651.5 1148.9h0M818.3 1059.1h0M686.6 1051.1h0M704.5 1225.7h0M720.9 1222.0h0M680.9 1202.3h0M706.7 1227.1h0M712.0 1056.4h0M784.8 1218.1h0M716.7 1175.3h0M784.8 1012.2h0M757.7 1176.0h0M774.9 1072.1h0M800.7 1051.5h0M764.5 1041.3h0M695.2 1036.9h0M614.6 1078.4h0M736.7 1041.9h0M689.9 1216.6h0M808.7 1066.1h0M674.0 1024.9h0M661.1 1219.2h0M733.3 1082.8h0M688.4 1193.9h0M756.6 1015.4h0M720.0 1009.0h0M630.5 1116.8h0M759.8 1068.6h0M809.5 1042.1h0M723.3 1187.3h0M632.5 1047.6h0M668.5 1093.8h0M659.3 1162.2h0M707.5 1193.2h0M770.8 1164.0h0M734.0 1197.2h0M712.1 1099.5h0M834.5 1146.3h0M834.7 1123.4h0M682.9 1053.3h0M640.2 1157.9h0M833.9 1067.0h0M659.6 1182.2h0M757.3 1082.9h0M626.4 1095.2h0M662.3 1153.1h0M606.4 1075.2h0M698.5 1027.2h0M607.5 1106.0h0M702.0 1163.4h0M715.5 995.5h0M734.9 1007.4h0M636.0 1115.7h0M800.7 1188.4h0M830.8 1160.5h0M649.3 1155.2h0M611.3 1116.6h0M724.6 1240.7h0M666.9 1204.2h0M808.2 1036.8h0M771.6 1072.1h0M644.3 1018.5h0M806.4 1097.6h0M791.4 1216.7h0M658.4 1134.9h0M773.7 1118.9h0M746.4 1008.6h0M821.8 1060.1h0M647.7 1071.7h0" stroke="#4e3ea4" stroke-width="2.8" stroke-linecap="round" opacity=".75" filter="url(#bd)"/>
</g>
<g clip-path="url(#c3)">
<rect x="175.00" y="1302.00" width="345.00" height="342.00" fill="#8489b4"/>
<rect x="170" y="1295" width="120" height="60" fill="#8388b0" filter="url(#b12)"/>
<rect x="440" y="1580" width="90" height="70" fill="#9196cd" filter="url(#b12)"/>
<rect x="170" y="1580" width="80" height="70" fill="#7c86b4" filter="url(#b12)"/>
<ellipse cx="370.0" cy="1668.0" rx="95.0" ry="36.0" fill="#5a58b8" filter="url(#b2)"/>
<ellipse cx="370.0" cy="1672.0" rx="70.0" ry="24.0" fill="#3c2a9c" filter="url(#b2)"/>
<circle cx="347.7" cy="1471.6" r="169.0" fill="#3a289c" filter="url(#b2)"/>
<circle cx="347.7" cy="1471.6" r="168.0" fill="none" stroke="#3448ac" stroke-width="3" opacity="0.9" filter="url(#b1)"/>
<circle cx="349.5" cy="1466.0" r="146.0" fill="#5048a6" filter="url(#b5)"/>
<path d="M470 1350 A168 168 0 0 1 470 1590" stroke="#32209c" stroke-width="16" fill="none" opacity=".6" filter="url(#b5)"/>
<path d="M232 1352 Q262 1325 296 1312" stroke="#a9a8e2" stroke-width="4" fill="none" opacity=".7" filter="url(#b2)"/>
<path d="M352 1331 Q400 1326 440 1345" stroke="#c9c6f2" stroke-width="3" fill="none" opacity=".6" filter="url(#b1)"/>
<path d="M340 1312 Q410 1308 470 1350" stroke="#2c1694" stroke-width="16" fill="none" opacity=".7" filter="url(#b5)"/>
<circle cx="352.6" cy="1458.7" r="126.0" fill="#666bb0" filter="url(#b1)"/>
<circle cx="352.6" cy="1458.7" r="125.5" fill="none" stroke="#8a8ad2" stroke-width="1.6" opacity="0.6" filter="url(#b1)"/>
<ellipse cx="410.0" cy="1445.0" rx="48.0" ry="85.0" fill="#7c82c8" opacity="0.85" filter="url(#b12)"/>
<ellipse cx="335.0" cy="1480.0" rx="35.0" ry="55.0" fill="#7468b0" opacity="0.5" filter="url(#b12)"/>
<ellipse cx="290.0" cy="1390.0" rx="40.0" ry="30.0" fill="#555a9c" opacity="0.6" filter="url(#b12)"/>
<path d="M352 1585 L356 1640 M366 1588 L372 1640" stroke="#3a22a8" stroke-width="5" opacity=".8" filter="url(#b1)"/>
<path d="M370 1590 L420 1582 L425 1605 L374 1612Z" fill="#7a74d0" opacity=".35" filter="url(#b2)"/>
<path d="M300.9 1425.4h0M281.1 1420.4h0M276.9 1421.0h0M380.4 1527.0h0M281.9 1394.6h0M328.4 1394.1h0M290.7 1427.1h0M277.6 1475.2h0M380.5 1376.9h0M333.5 1424.5h0M275.7 1470.7h0M425.9 1522.3h0M401.5 1512.6h0M309.6 1497.7h0M340.6 1559.0h0M362.8 1456.5h0M319.5 1562.8h0M301.8 1454.9h0M450.4 1506.4h0M334.3 1401.3h0M388.7 1394.9h0M372.1 1440.6h0M389.9 1525.5h0M374.3 1564.1h0M299.5 1364.0h0M420.6 1390.4h0M417.8 1408.9h0M421.2 1427.7h0M385.2 1487.8h0M334.9 1388.9h0M324.7 1362.2h0M254.6 1480.5h0M408.1 1391.9h0M389.7 1363.9h0M387.8 1450.3h0M275.9 1501.9h0M295.8 1495.2h0M300.8 1515.0h0M328.0 1363.2h0M419.7 1367.3h0M338.6 1511.0h0M423.8 1486.6h0M322.3 1354.3h0M367.8 1414.4h0M310.4 1361.2h0M442.3 1429.4h0M417.8 1378.0h0M381.9 1572.0h0M406.2 1551.0h0M438.0 1465.8h0M380.4 1547.4h0M260.8 1458.5h0M421.5 1516.7h0M396.0 1433.1h0M325.8 1470.8h0M364.6 1410.1h0M299.8 1533.9h0M434.0 1511.8h0M399.5 1440.7h0M283.4 1474.3h0M408.6 1517.4h0M445.2 1511.0h0M297.3 1438.4h0M300.3 1404.5h0M360.4 1402.2h0M317.2 1361.9h0M248.7 1420.5h0M363.3 1558.1h0M337.3 1545.1h0M346.3 1399.2h0M422.3 1508.8h0M433.3 1448.6h0M427.3 1416.1h0M432.9 1412.7h0M348.2 1411.8h0M446.1 1510.9h0M271.4 1381.4h0M332.8 1496.0h0M392.9 1438.5h0M400.3 1546.1h0M266.9 1511.3h0M427.5 1381.0h0M320.5 1363.9h0M386.1 1544.1h0M309.4 1427.0h0M453.1 1485.7h0M344.2 1372.0h0M365.8 1429.9h0M361.7 1460.5h0M251.6 1478.7h0M320.5 1484.1h0" stroke="#44389a" stroke-width="1.6" stroke-linecap="round" opacity=".65" filter="url(#bd)"/>
<path d="M285.4 1419.8h0M367.5 1447.1h0M377.2 1570.5h0M332.1 1521.1h0M308.8 1408.0h0M332.8 1446.2h0M367.1 1554.9h0M433.4 1378.1h0M242.2 1468.2h0M359.9 1539.6h0M271.8 1465.9h0M255.7 1391.2h0M344.0 1541.5h0M323.5 1570.7h0M312.8 1370.8h0M287.7 1402.9h0M331.6 1386.3h0M378.2 1419.3h0M399.9 1459.1h0M399.1 1564.7h0M444.4 1407.2h0M349.6 1549.4h0M388.8 1558.0h0M306.8 1437.3h0M265.1 1388.9h0M425.4 1504.9h0M384.9 1509.3h0M459.8 1420.3h0M243.7 1481.4h0M257.8 1473.2h0M426.9 1524.0h0M393.2 1462.8h0M445.8 1427.2h0M354.8 1388.0h0M314.6 1460.8h0M277.3 1478.4h0M359.6 1568.2h0M384.3 1562.1h0M415.6 1437.6h0M333.1 1379.1h0M308.4 1385.3h0M297.2 1549.2h0M281.5 1462.1h0M397.4 1466.5h0M396.9 1569.1h0M323.7 1489.4h0M291.1 1530.3h0M312.0 1561.3h0M371.3 1395.3h0M240.3 1461.4h0M426.1 1471.0h0M450.1 1491.2h0M380.1 1491.7h0M368.5 1417.2h0M412.5 1521.0h0M310.6 1402.2h0M303.6 1536.1h0M403.3 1417.8h0M304.1 1563.1h0M459.6 1453.5h0M401.7 1452.5h0M415.5 1484.9h0M271.6 1494.9h0M453.3 1507.7h0M349.2 1382.9h0M302.2 1492.9h0M282.7 1532.9h0M307.5 1413.8h0M342.8 1441.8h0M308.7 1426.2h0M332.7 1508.1h0M366.7 1485.8h0M316.5 1477.3h0M350.7 1494.2h0M247.4 1477.7h0M433.4 1442.1h0M347.3 1470.3h0M347.4 1437.7h0M322.7 1364.0h0M243.9 1413.7h0M358.5 1417.7h0M243.0 1462.7h0M364.0 1507.8h0M383.8 1389.1h0M460.9 1431.0h0M253.8 1511.5h0M384.0 1382.8h0M464.4 1450.8h0M443.3 1504.1h0M255.5 1402.2h0M309.0 1568.6h0M376.3 1470.6h0M405.9 1439.1h0M352.9 1394.8h0" stroke="#44389a" stroke-width="2.2" stroke-linecap="round" opacity=".65" filter="url(#bd)"/>
<path d="M375.7 1476.9h0M362.9 1534.3h0M310.4 1472.5h0M399.8 1476.7h0M361.7 1488.4h0M461.5 1455.8h0M411.9 1468.1h0M434.4 1419.6h0M419.8 1541.8h0M315.2 1570.9h0M379.3 1525.4h0M346.8 1502.4h0M370.3 1380.6h0M357.5 1355.5h0M347.9 1558.4h0M334.8 1529.3h0M325.9 1390.6h0M327.7 1504.9h0M265.4 1480.7h0M445.1 1506.7h0M356.0 1435.2h0M366.8 1343.9h0M243.0 1452.6h0M363.3 1422.3h0M413.1 1392.7h0M460.5 1501.1h0M354.8 1487.2h0M300.9 1423.1h0M367.6 1342.5h0M286.1 1556.8h0M274.3 1399.8h0M364.9 1447.5h0M388.8 1421.2h0M341.5 1524.8h0M346.4 1471.9h0M348.4 1531.9h0M405.9 1499.9h0M347.3 1425.5h0M433.7 1537.0h0M391.4 1565.3h0M339.0 1450.0h0M448.9 1504.9h0M385.8 1523.3h0M377.9 1362.7h0M278.6 1486.1h0M374.4 1517.5h0M409.8 1387.4h0M306.8 1417.4h0M407.0 1358.7h0M322.8 1494.1h0M374.1 1564.7h0M309.6 1527.5h0M414.0 1442.3h0M331.2 1471.4h0M347.8 1434.0h0M253.4 1479.4h0M296.4 1384.1h0M245.5 1438.6h0M268.4 1517.0h0M366.6 1539.1h0M390.5 1373.3h0M410.8 1404.0h0M372.4 1450.3h0M277.2 1509.2h0M355.5 1367.0h0M257.2 1429.9h0M410.7 1559.9h0M382.8 1460.9h0M433.9 1427.9h0M380.7 1477.1h0M280.4 1534.9h0M305.8 1432.7h0M348.3 1538.6h0M414.4 1468.7h0M281.4 1486.0h0" stroke="#44389a" stroke-width="2.8" stroke-linecap="round" opacity=".65" filter="url(#bd)"/>
</g>
<defs><clipPath id="c4r"><circle cx="697" cy="1469.5" r="167"/></clipPath></defs>
<g clip-path="url(#c4)">
<rect x="528.00" y="1302.00" width="340.00" height="342.00" fill="#848bba"/>
<path d="M528 1604 L560 1608 L660 1618 L770 1624 L868 1619 L868 1644 L528 1644Z" fill="#838ca8" filter="url(#b2)"/>
<path d="M560 1608 L660 1618 L770 1624 L868 1619" stroke="#b4bcdc" stroke-width="4" fill="none" opacity=".85" filter="url(#b2)"/>
<rect x="520" y="1440" width="24" height="210" fill="#6e7088" filter="url(#b5)"/>
<rect x="780" y="1560" width="100" height="50" fill="#969ec8" filter="url(#b12)"/>
<g clip-path="url(#c4r)">
<circle cx="697.0" cy="1469.5" r="167.0" fill="#979bcc"/>
<ellipse cx="705.0" cy="1456.5" rx="156.0" ry="157.0" fill="#5642aa" filter="url(#b2)"/>
<path d="M688 1311 A150 150 0 0 1 852 1445" stroke="#2a12a8" stroke-width="30" fill="none" opacity=".85" filter="url(#b5)"/>
</g>
<circle cx="697.0" cy="1469.5" r="166.5" fill="none" stroke="#2e40b8" stroke-width="3.4" opacity="0.95" filter="url(#b1)"/>
<path d="M715 1338 A125 125 0 0 1 800 1560 A 127 127 0 0 1 640 1570" stroke="#a4a2e2" stroke-width="3" fill="none" opacity=".55" filter="url(#b1)"/>
<circle cx="706.0" cy="1462.5" r="122.5" fill="#757cbe" filter="url(#b1)"/>
<ellipse cx="715.0" cy="1430.0" rx="75.0" ry="55.0" fill="#7e86c6" opacity="0.8" filter="url(#b12)"/>
<ellipse cx="700.0" cy="1500.0" rx="50.0" ry="45.0" fill="#7870b8" opacity="0.5" filter="url(#b12)"/>
<path d="M712 1590 L716 1630" stroke="#4834b4" stroke-width="5" opacity=".8" filter="url(#b1)"/>
<path d="M630.5 1371.0h0M683.2 1408.1h0M596.8 1483.1h0M812.5 1473.6h0M624.0 1404.6h0M638.1 1369.0h0M596.9 1493.0h0M690.3 1396.9h0M621.2 1506.8h0M634.0 1530.0h0M612.7 1443.7h0M710.9 1531.6h0M680.6 1562.8h0M647.2 1516.2h0M720.5 1569.8h0M781.8 1540.7h0M622.5 1469.7h0M809.2 1511.4h0M716.3 1522.9h0M644.1 1524.8h0M649.1 1512.1h0M765.7 1387.4h0M715.5 1443.7h0M787.4 1540.5h0M710.0 1426.8h0M665.9 1371.3h0M610.7 1430.4h0M725.7 1377.1h0M700.3 1566.5h0M762.7 1398.0h0M708.9 1533.2h0M784.5 1414.0h0M619.3 1494.6h0M617.3 1411.6h0M649.1 1457.7h0M662.6 1453.1h0M700.0 1405.1h0M684.0 1579.2h0M818.3 1499.5h0M788.7 1490.8h0M635.4 1381.2h0M702.0 1517.3h0M654.4 1401.4h0M715.5 1354.9h0M815.2 1416.5h0M681.5 1577.2h0M770.4 1495.7h0M807.1 1467.3h0M744.7 1570.8h0M765.7 1514.8h0M692.6 1348.1h0M789.7 1449.5h0M692.6 1386.9h0M617.3 1530.6h0M770.5 1400.8h0M808.4 1494.3h0M684.1 1480.5h0M625.6 1530.2h0M800.0 1481.3h0M814.4 1492.4h0M592.8 1453.7h0M641.1 1504.0h0M730.3 1507.3h0M613.4 1499.4h0M756.9 1524.4h0M773.1 1372.2h0M703.2 1493.6h0M598.0 1504.1h0M759.3 1372.5h0M673.3 1375.0h0M656.3 1565.3h0M733.9 1389.8h0M681.8 1500.4h0M773.6 1426.6h0M650.7 1390.2h0M687.3 1563.2h0M701.0 1561.6h0M666.9 1431.7h0M792.9 1462.2h0M724.3 1365.2h0M703.9 1498.1h0M659.2 1557.5h0M755.0 1532.7h0M591.7 1460.5h0M805.5 1476.4h0M660.9 1368.7h0M689.5 1575.0h0M664.3 1447.6h0M712.8 1576.7h0M659.0 1415.5h0M636.2 1402.1h0M632.9 1387.4h0M722.3 1561.0h0M671.4 1403.2h0M824.7 1463.3h0M666.9 1494.8h0M712.2 1580.1h0M640.7 1454.8h0M627.2 1434.6h0M600.6 1511.6h0M683.6 1385.0h0M634.0 1505.8h0M708.3 1345.8h0M650.6 1370.7h0M804.0 1524.1h0M629.5 1550.3h0M703.8 1354.8h0M800.1 1513.2h0M698.0 1538.5h0M806.9 1401.8h0M595.0 1419.7h0M787.9 1519.1h0M817.4 1467.0h0M713.7 1363.4h0M805.2 1527.4h0M722.2 1404.7h0M687.8 1349.4h0M659.7 1372.0h0M590.6 1465.6h0M595.6 1487.6h0M742.2 1565.4h0M772.2 1558.9h0M645.2 1407.4h0M647.9 1366.0h0M738.7 1551.2h0M792.9 1529.0h0M659.5 1367.1h0M667.5 1484.6h0M674.6 1428.5h0M654.8 1502.1h0M669.5 1462.1h0M802.1 1394.8h0M724.3 1386.6h0M798.7 1505.5h0M769.8 1560.8h0M616.2 1453.5h0M812.5 1494.9h0M733.7 1489.3h0M804.8 1519.5h0M809.5 1470.7h0M663.6 1381.7h0M677.9 1396.5h0M762.9 1455.1h0M606.2 1432.5h0M649.1 1475.6h0M743.2 1537.8h0M594.3 1491.7h0M631.2 1401.0h0M634.0 1394.1h0M682.5 1506.0h0M727.2 1363.7h0M724.6 1472.7h0M730.4 1574.1h0M695.9 1457.5h0M612.3 1531.2h0M690.6 1349.0h0M746.6 1416.3h0M678.5 1523.9h0M803.1 1419.9h0M775.2 1474.9h0M811.8 1439.5h0M686.7 1528.8h0M708.2 1557.5h0M787.3 1432.0h0M630.8 1531.7h0M770.4 1545.1h0M691.7 1515.5h0M729.8 1540.3h0M650.4 1382.1h0M663.6 1532.5h0M588.3 1451.1h0M649.8 1415.7h0M796.6 1517.7h0M722.0 1545.8h0M709.2 1484.7h0M696.9 1393.0h0M659.0 1367.0h0M662.7 1539.7h0M617.0 1479.3h0M780.1 1435.0h0M628.6 1441.0h0M763.4 1366.7h0M726.3 1499.8h0M606.5 1516.0h0M723.4 1366.8h0M688.0 1415.2h0M651.2 1357.7h0M682.3 1376.5h0M625.8 1530.2h0M778.7 1503.7h0M672.3 1400.3h0M805.9 1466.9h0M657.0 1381.4h0M798.4 1456.9h0M619.8 1438.8h0M622.2 1468.9h0M789.4 1524.8h0M797.5 1412.6h0M715.8 1351.9h0M648.3 1505.1h0M669.1 1402.9h0M705.6 1433.9h0M769.6 1557.3h0M711.6 1386.2h0M749.6 1539.4h0M812.5 1414.3h0M647.1 1374.7h0M761.6 1558.6h0M725.0 1402.6h0M628.7 1519.1h0M753.5 1372.2h0M614.8 1513.5h0M758.1 1490.3h0M664.7 1415.1h0M659.8 1364.0h0M787.5 1390.7h0M657.8 1569.9h0M648.7 1510.1h0M713.5 1537.8h0M790.7 1384.9h0M660.9 1400.9h0M596.8 1462.4h0M729.6 1560.1h0M779.9 1552.1h0M636.9 1522.9h0M619.1 1451.5h0M691.8 1475.6h0M709.4 1559.0h0M687.5 1370.9h0M773.0 1395.2h0M654.1 1562.2h0M800.7 1446.7h0M785.8 1524.6h0M708.5 1579.2h0M746.1 1572.0h0M599.1 1426.1h0M648.7 1554.9h0M626.1 1520.0h0M795.2 1526.9h0M788.8 1381.5h0M602.3 1434.1h0M781.4 1432.9h0M611.7 1450.5h0M597.8 1470.0h0M772.3 1388.3h0M715.0 1480.7h0M616.8 1443.6h0M802.0 1412.0h0M617.7 1509.8h0M671.3 1349.5h0M609.5 1472.6h0M761.4 1524.8h0M752.7 1355.9h0M609.3 1396.8h0M661.6 1549.9h0M721.8 1580.0h0M595.3 1449.8h0M753.9 1520.6h0M730.7 1510.1h0M640.9 1431.5h0M681.8 1388.1h0M698.9 1362.5h0M722.8 1353.1h0M619.8 1540.5h0M720.4 1367.2h0M710.6 1454.7h0M679.6 1414.3h0M699.6 1567.0h0M684.2 1397.2h0M736.1 1567.2h0M676.8 1416.2h0M777.3 1555.8h0M718.3 1535.2h0M691.5 1392.9h0M758.8 1562.1h0M685.4 1510.3h0M659.5 1387.4h0M789.6 1508.6h0M691.0 1385.9h0M784.1 1500.9h0M589.6 1447.9h0M810.9 1499.4h0M796.8 1449.1h0M702.5 1363.6h0M593.5 1483.7h0M802.9 1509.2h0M761.2 1463.3h0M785.3 1382.6h0M704.1 1555.5h0M726.7 1382.8h0M762.9 1401.3h0M653.5 1370.4h0M767.0 1455.2h0M781.7 1427.5h0M615.2 1521.3h0M669.9 1435.3h0M768.6 1397.1h0M614.8 1394.0h0M801.1 1486.9h0M744.6 1390.9h0M805.3 1512.9h0" stroke="#4636b0" stroke-width="1.4" stroke-linecap="round" opacity=".7" filter="url(#bd)"/>
<path d="M738.2 1452.0h0M744.6 1391.5h0M612.9 1486.0h0M680.0 1393.5h0M800.5 1527.5h0M739.3 1496.3h0M627.4 1404.7h0M597.2 1435.1h0M625.4 1429.3h0M767.7 1508.6h0M712.3 1360.4h0M619.5 1515.2h0M676.5 1575.1h0M705.8 1404.9h0M784.8 1544.9h0M597.7 1420.3h0M680.5 1550.1h0M804.8 1513.6h0M618.9 1456.9h0M718.8 1439.1h0M819.0 1438.4h0M651.9 1522.0h0M705.8 1406.2h0M667.5 1377.6h0M745.3 1510.9h0M599.8 1418.9h0M664.9 1366.1h0M782.9 1511.9h0M797.8 1393.0h0M689.9 1421.9h0M644.5 1458.6h0M651.5 1493.8h0M649.6 1409.0h0M747.8 1372.4h0M721.9 1386.2h0M802.7 1452.0h0M607.2 1450.5h0M675.7 1542.7h0M639.1 1438.9h0M755.9 1494.5h0M699.3 1524.6h0M643.2 1546.6h0M730.2 1549.1h0M761.5 1520.9h0M775.6 1374.2h0M662.2 1500.0h0M799.3 1481.7h0M734.7 1476.1h0M594.8 1504.2h0M682.0 1446.3h0M717.6 1410.1h0M663.1 1361.1h0M704.8 1554.8h0M661.0 1491.0h0M708.9 1356.4h0M723.4 1390.1h0M806.2 1480.8h0M728.8 1507.0h0M606.0 1451.4h0M670.9 1426.8h0M729.8 1387.9h0M663.8 1442.3h0M690.9 1446.7h0M611.7 1501.7h0M758.3 1532.1h0M745.6 1502.2h0M744.4 1494.5h0M788.5 1518.6h0M731.0 1451.3h0M761.1 1490.8h0M707.6 1570.4h0M631.3 1546.8h0M729.4 1355.0h0M790.8 1471.6h0M689.3 1430.0h0M652.5 1410.3h0M647.3 1524.0h0M804.1 1412.4h0M695.2 1361.7h0M743.5 1549.2h0M717.4 1527.7h0M704.6 1472.9h0M642.9 1398.7h0M746.5 1382.2h0M677.5 1408.7h0M698.4 1577.1h0M663.8 1501.1h0M627.9 1484.3h0M778.0 1529.4h0M736.4 1348.7h0M610.8 1518.3h0M741.0 1574.8h0M773.8 1400.2h0M778.6 1505.2h0M590.0 1458.9h0M741.4 1365.0h0M712.2 1557.5h0M717.4 1480.3h0M755.4 1424.8h0M610.7 1405.1h0M820.8 1467.8h0M782.9 1492.8h0M677.9 1431.4h0M618.3 1536.1h0M638.3 1489.3h0M701.8 1399.5h0M634.6 1383.4h0M622.9 1478.2h0M736.0 1403.1h0M683.5 1367.6h0M674.4 1558.3h0M632.5 1436.2h0M686.9 1377.7h0M631.9 1373.2h0M641.8 1399.5h0M712.2 1548.6h0M617.3 1393.3h0M707.7 1445.3h0M798.4 1399.2h0M637.2 1374.8h0M777.8 1406.6h0M595.2 1438.1h0M810.3 1412.7h0M696.1 1404.5h0M713.6 1527.4h0M736.8 1480.3h0M629.1 1429.6h0M785.7 1542.5h0M618.5 1492.8h0M773.9 1455.8h0M662.2 1352.5h0M664.8 1357.4h0M591.5 1471.0h0M673.8 1358.9h0M611.0 1430.3h0M802.5 1414.8h0M682.2 1527.0h0M815.7 1500.8h0M648.1 1521.9h0M594.2 1499.5h0M797.1 1408.7h0M660.8 1382.1h0M663.4 1498.8h0M746.8 1509.9h0M636.4 1427.9h0M648.6 1399.6h0M672.6 1565.1h0M714.5 1431.3h0M656.5 1562.1h0M766.1 1509.9h0M814.6 1495.0h0M701.8 1548.9h0M602.0 1435.5h0M732.9 1450.1h0M643.0 1505.0h0M695.0 1362.4h0M650.3 1417.6h0M624.0 1408.0h0M790.5 1507.6h0M775.1 1541.6h0M740.3 1541.2h0M688.3 1516.7h0M770.7 1473.4h0M713.1 1372.5h0M812.1 1429.3h0M736.6 1463.5h0M691.0 1431.1h0M720.2 1363.8h0M786.3 1478.7h0M822.1 1450.4h0M625.6 1528.0h0M663.9 1571.5h0M811.3 1461.3h0M731.3 1371.0h0M732.9 1427.2h0M757.0 1487.6h0M747.5 1390.0h0M731.9 1414.4h0M766.3 1426.6h0M752.3 1361.1h0M777.2 1399.3h0M642.6 1367.1h0M666.5 1477.6h0M792.5 1527.4h0M753.4 1564.0h0M788.4 1385.0h0M612.4 1522.6h0M736.6 1539.6h0M669.4 1459.3h0M635.7 1447.5h0M808.4 1411.8h0M725.3 1444.7h0M755.0 1456.7h0M649.8 1547.9h0M801.4 1396.0h0M735.0 1402.7h0M734.3 1535.1h0M710.1 1380.8h0M628.2 1507.3h0M808.7 1430.1h0M801.0 1507.1h0M712.3 1515.1h0M686.2 1407.7h0M781.1 1399.2h0M764.3 1492.2h0M778.7 1459.5h0M805.8 1503.0h0M645.0 1428.3h0M789.5 1419.8h0M680.1 1560.2h0M673.4 1563.4h0M763.4 1410.2h0M619.7 1452.9h0M642.5 1482.4h0M691.9 1357.8h0M661.0 1394.9h0M789.1 1543.2h0M818.1 1471.8h0M660.1 1387.8h0M766.2 1545.2h0M693.9 1532.6h0M698.7 1500.7h0M672.1 1516.2h0M789.4 1515.6h0M724.4 1549.8h0M808.1 1424.8h0M703.2 1505.4h0M815.5 1436.9h0M670.3 1560.9h0M737.5 1538.8h0M607.8 1487.4h0M625.9 1487.5h0M718.9 1521.2h0M735.1 1544.2h0M618.1 1431.6h0M743.9 1572.8h0M678.4 1434.3h0M794.0 1524.0h0M747.2 1563.8h0M757.0 1371.5h0M642.4 1390.2h0M805.9 1461.2h0M717.8 1485.0h0M806.1 1476.3h0M648.4 1542.7h0M640.3 1537.6h0M776.5 1409.7h0M735.6 1385.3h0M757.7 1380.7h0M768.2 1513.5h0M636.7 1421.0h0M662.9 1488.5h0M643.5 1455.2h0M812.8 1428.0h0M695.6 1381.0h0M733.6 1354.5h0M659.8 1507.2h0M750.0 1568.2h0M628.9 1373.0h0M694.4 1515.3h0M641.3 1404.0h0M774.3 1542.4h0M650.4 1445.4h0M622.0 1407.5h0M684.0 1472.8h0M653.8 1413.7h0M609.3 1511.2h0M615.6 1420.5h0M754.3 1541.1h0M775.3 1372.0h0M767.5 1544.9h0M802.3 1417.7h0M806.2 1451.1h0M694.6 1364.5h0M699.8 1546.4h0M815.2 1481.2h0M727.4 1555.7h0M642.0 1372.0h0M627.7 1425.5h0M802.7 1525.1h0M787.6 1460.6h0M678.0 1405.5h0M647.7 1375.5h0M695.2 1371.1h0M726.8 1577.0h0M813.4 1491.5h0M790.9 1406.0h0M714.5 1566.7h0M605.3 1412.4h0M654.2 1458.3h0M809.5 1441.9h0M788.2 1510.7h0M744.1 1514.8h0M819.2 1472.9h0M706.4 1345.4h0M802.1 1512.3h0M711.8 1545.1h0M798.4 1477.7h0M775.9 1550.9h0M739.4 1536.8h0M817.9 1430.6h0M613.7 1520.2h0M598.7 1511.0h0M817.7 1434.6h0M650.0 1361.6h0M782.4 1384.2h0M686.7 1355.4h0M680.4 1549.2h0M710.6 1347.1h0M689.9 1545.1h0M601.8 1458.0h0M639.8 1518.1h0M648.8 1530.5h0M711.6 1432.4h0M690.8 1380.6h0M716.7 1372.0h0M679.7 1535.3h0M770.2 1483.6h0M774.2 1528.2h0M796.4 1386.8h0M754.3 1525.1h0M704.2 1391.2h0M759.2 1533.9h0M684.7 1554.2h0M773.5 1538.3h0M701.9 1505.0h0M735.8 1446.2h0M763.8 1539.0h0M630.2 1428.5h0M742.5 1455.0h0M780.5 1479.6h0M749.7 1564.8h0M788.0 1548.0h0M773.4 1460.6h0M754.9 1416.4h0M818.3 1456.1h0M803.9 1405.3h0M695.6 1447.3h0" stroke="#4636b0" stroke-width="2.0" stroke-linecap="round" opacity=".7" filter="url(#bd)"/>
<path d="M660.4 1431.6h0M595.5 1471.9h0M656.0 1567.5h0M743.5 1420.9h0M723.3 1507.6h0M705.1 1465.5h0M752.7 1549.7h0M709.0 1532.3h0M673.8 1497.0h0M669.6 1455.3h0M661.1 1473.6h0M636.4 1413.3h0M684.9 1493.1h0M799.2 1510.6h0M633.6 1546.7h0M815.0 1439.1h0M765.8 1514.9h0M728.6 1363.6h0M755.3 1518.8h0M733.1 1405.7h0M638.2 1429.5h0M814.7 1477.4h0M708.1 1377.8h0M746.7 1478.0h0M597.2 1459.3h0M720.9 1522.1h0M638.0 1530.2h0M621.0 1502.4h0M633.9 1447.7h0M707.8 1575.4h0M599.3 1460.5h0M808.8 1441.9h0M697.8 1372.3h0M685.0 1512.8h0M624.1 1403.8h0M671.4 1518.8h0M593.2 1483.3h0M753.1 1464.2h0M608.7 1458.3h0M705.3 1565.9h0M749.8 1444.2h0M797.0 1446.3h0M607.1 1472.8h0M628.7 1543.8h0M599.3 1424.9h0M765.2 1452.1h0M785.1 1392.8h0M682.8 1538.1h0M589.5 1461.4h0M642.6 1376.1h0M712.8 1556.8h0M656.5 1530.4h0M699.7 1550.4h0M786.0 1550.6h0M648.9 1518.9h0M729.1 1374.4h0M720.6 1379.8h0M749.5 1551.9h0M804.5 1523.8h0M712.3 1351.7h0M719.7 1366.0h0M637.0 1410.3h0M648.1 1527.0h0M596.3 1491.4h0M687.7 1349.1h0M714.9 1392.9h0M690.5 1355.6h0M691.1 1489.2h0M624.0 1469.5h0M615.2 1529.2h0M597.5 1447.0h0M724.9 1564.8h0M631.3 1546.3h0M790.9 1446.4h0M642.4 1363.9h0M603.4 1403.3h0M632.7 1470.3h0M659.8 1540.3h0M812.7 1452.9h0M675.6 1358.3h0M687.2 1347.1h0M612.4 1496.2h0M766.4 1444.3h0M816.9 1476.0h0M700.5 1513.4h0M770.2 1420.7h0M615.1 1517.7h0M802.6 1522.8h0M619.9 1425.1h0M631.7 1465.5h0M728.6 1381.5h0M810.1 1494.1h0M650.9 1441.0h0M615.2 1437.2h0M760.8 1524.9h0M799.6 1517.0h0M728.7 1510.1h0M719.5 1403.3h0M739.6 1469.6h0M726.1 1374.1h0M753.6 1569.1h0M718.6 1558.3h0M722.4 1548.5h0M675.6 1527.9h0M595.2 1489.3h0M627.3 1495.8h0M758.7 1550.6h0M648.4 1543.8h0M624.0 1542.1h0M704.0 1408.8h0M724.2 1522.2h0M725.1 1414.2h0M744.7 1473.7h0M609.1 1420.6h0M653.5 1394.3h0M625.5 1523.2h0M786.6 1489.8h0M715.6 1396.6h0M675.0 1556.3h0M659.0 1434.2h0M795.3 1531.5h0M673.2 1476.0h0M634.6 1457.9h0M760.8 1504.6h0M705.6 1515.5h0M703.4 1414.5h0M671.5 1515.5h0M620.7 1393.8h0M622.9 1409.7h0M690.4 1446.4h0M781.9 1438.3h0M672.1 1547.5h0M757.3 1505.4h0M667.6 1410.7h0M784.9 1430.9h0M626.4 1507.9h0M702.9 1357.8h0M620.7 1536.1h0M615.0 1386.0h0M763.1 1374.8h0M611.5 1499.6h0M752.7 1456.9h0M811.4 1502.1h0M613.4 1486.7h0M610.1 1531.0h0M696.9 1370.5h0M739.4 1437.9h0M696.9 1495.5h0M756.0 1389.7h0M710.8 1579.4h0M792.0 1503.6h0M781.9 1482.7h0M686.3 1562.4h0M675.7 1359.1h0M659.6 1510.9h0M661.7 1407.9h0M610.6 1397.2h0M613.7 1408.1h0M599.5 1506.8h0M754.5 1424.9h0M627.6 1416.9h0M794.9 1518.8h0M722.5 1545.8h0M808.1 1421.7h0M599.6 1491.4h0M803.2 1425.0h0M652.6 1430.1h0M607.0 1439.7h0M693.9 1572.4h0M719.9 1479.0h0M657.5 1403.8h0M686.8 1354.1h0M757.6 1489.3h0M735.2 1540.9h0M768.4 1549.3h0M716.9 1556.0h0M610.4 1411.5h0M664.9 1572.4h0M686.9 1570.8h0M658.6 1563.9h0M660.0 1516.2h0M590.0 1467.3h0M757.0 1461.4h0M647.5 1521.5h0M649.6 1440.5h0M719.1 1346.4h0M654.8 1396.1h0M666.9 1414.6h0M725.2 1576.4h0M702.7 1579.7h0M623.2 1542.7h0M635.3 1488.6h0M700.3 1563.8h0M716.8 1385.2h0M781.0 1398.7h0M737.1 1463.4h0M620.7 1412.8h0M644.3 1545.3h0M658.9 1527.5h0M782.4 1528.9h0M722.3 1515.7h0M621.5 1407.1h0M668.7 1427.9h0M740.3 1572.0h0M727.3 1575.5h0M677.9 1534.2h0M590.5 1455.2h0M758.1 1556.3h0M721.3 1359.0h0M712.1 1567.2h0M713.7 1532.2h0M742.4 1565.3h0M627.0 1500.3h0M741.9 1530.1h0M700.8 1510.7h0M762.4 1467.0h0M742.1 1573.4h0M682.7 1561.0h0M779.3 1386.0h0M647.0 1512.2h0M677.3 1454.1h0M722.8 1346.7h0M750.1 1486.2h0M718.4 1568.2h0M745.9 1530.1h0M776.6 1429.3h0M641.8 1482.4h0M668.7 1408.3h0M762.7 1542.1h0M677.7 1496.5h0M606.4 1445.3h0M639.5 1375.2h0M785.8 1536.9h0M614.2 1535.1h0M734.7 1524.8h0M721.9 1489.8h0M674.8 1564.7h0M678.9 1564.6h0M779.8 1472.5h0M774.5 1415.5h0M800.6 1443.3h0M653.2 1375.6h0M775.6 1542.9h0M764.7 1479.2h0M697.2 1542.1h0M709.0 1545.1h0M624.4 1388.0h0M683.4 1575.7h0M756.9 1384.3h0M765.2 1460.5h0M808.7 1493.5h0M633.3 1488.1h0M754.0 1549.5h0M735.6 1425.3h0M665.6 1567.9h0M630.0 1397.5h0M648.1 1552.2h0M807.0 1438.0h0M638.3 1387.0h0M644.9 1368.7h0M821.6 1455.7h0M775.6 1385.8h0M605.2 1399.5h0M688.1 1377.3h0M770.2 1516.2h0M730.2 1417.6h0M634.2 1455.0h0M812.1 1472.2h0M778.1 1544.0h0M618.0 1472.7h0M692.2 1560.8h0M705.0 1556.6h0M799.9 1466.0h0M724.3 1518.2h0M758.4 1528.4h0M810.0 1463.4h0M685.9 1566.0h0M764.2 1376.3h0M754.0 1535.1h0M614.4 1471.3h0M613.5 1445.0h0M674.1 1488.8h0M661.1 1356.2h0M740.9 1457.7h0M650.5 1442.5h0M725.5 1384.2h0M788.9 1430.6h0M610.8 1531.5h0M755.2 1526.5h0M618.2 1525.7h0M743.5 1567.3h0M591.1 1432.8h0M654.9 1536.6h0M640.0 1559.7h0M788.5 1529.8h0M587.2 1461.6h0M728.4 1539.7h0M725.2 1552.8h0M601.2 1484.8h0M799.7 1428.6h0M740.6 1358.8h0M705.6 1353.7h0M624.5 1419.5h0M725.6 1366.3h0M622.0 1545.6h0M758.5 1520.2h0M623.5 1544.2h0M789.1 1538.0h0M694.8 1344.5h0M765.9 1524.3h0M645.1 1526.3h0M668.3 1475.1h0M609.6 1404.6h0M727.2 1513.1h0M591.6 1491.2h0M644.7 1396.4h0M677.0 1574.3h0M712.3 1402.5h0M726.9 1421.6h0M745.5 1443.3h0M653.9 1549.5h0M675.0 1456.7h0M670.0 1373.8h0M790.1 1534.6h0M792.4 1419.6h0M733.3 1577.2h0M802.1 1492.5h0M683.0 1412.2h0M642.1 1550.4h0M611.4 1433.4h0M684.9 1565.0h0M785.3 1401.2h0M687.3 1374.4h0M820.2 1492.0h0M804.0 1496.2h0M638.7 1439.3h0M663.0 1364.6h0M791.7 1403.7h0M683.7 1508.6h0M648.8 1388.7h0M737.5 1535.8h0M816.0 1424.3h0M685.5 1573.1h0M631.7 1513.9h0M607.6 1466.8h0M695.3 1451.0h0M758.3 1369.2h0M634.3 1492.1h0M610.7 1405.2h0M800.5 1514.3h0M706.2 1380.6h0M754.1 1389.9h0M652.1 1424.1h0M694.0 1352.6h0M791.1 1445.6h0M755.5 1507.4h0M681.4 1522.7h0M780.0 1433.9h0M726.5 1445.2h0M807.9 1428.0h0M607.9 1478.8h0" stroke="#4636b0" stroke-width="2.6" stroke-linecap="round" opacity=".7" filter="url(#bd)"/>
<path d="M620 1520 l8 1" stroke="#3c1cb4" stroke-width="5" stroke-linecap="round" filter="url(#bd)"/>
</g>
</g>
</svg>
</body></html>
